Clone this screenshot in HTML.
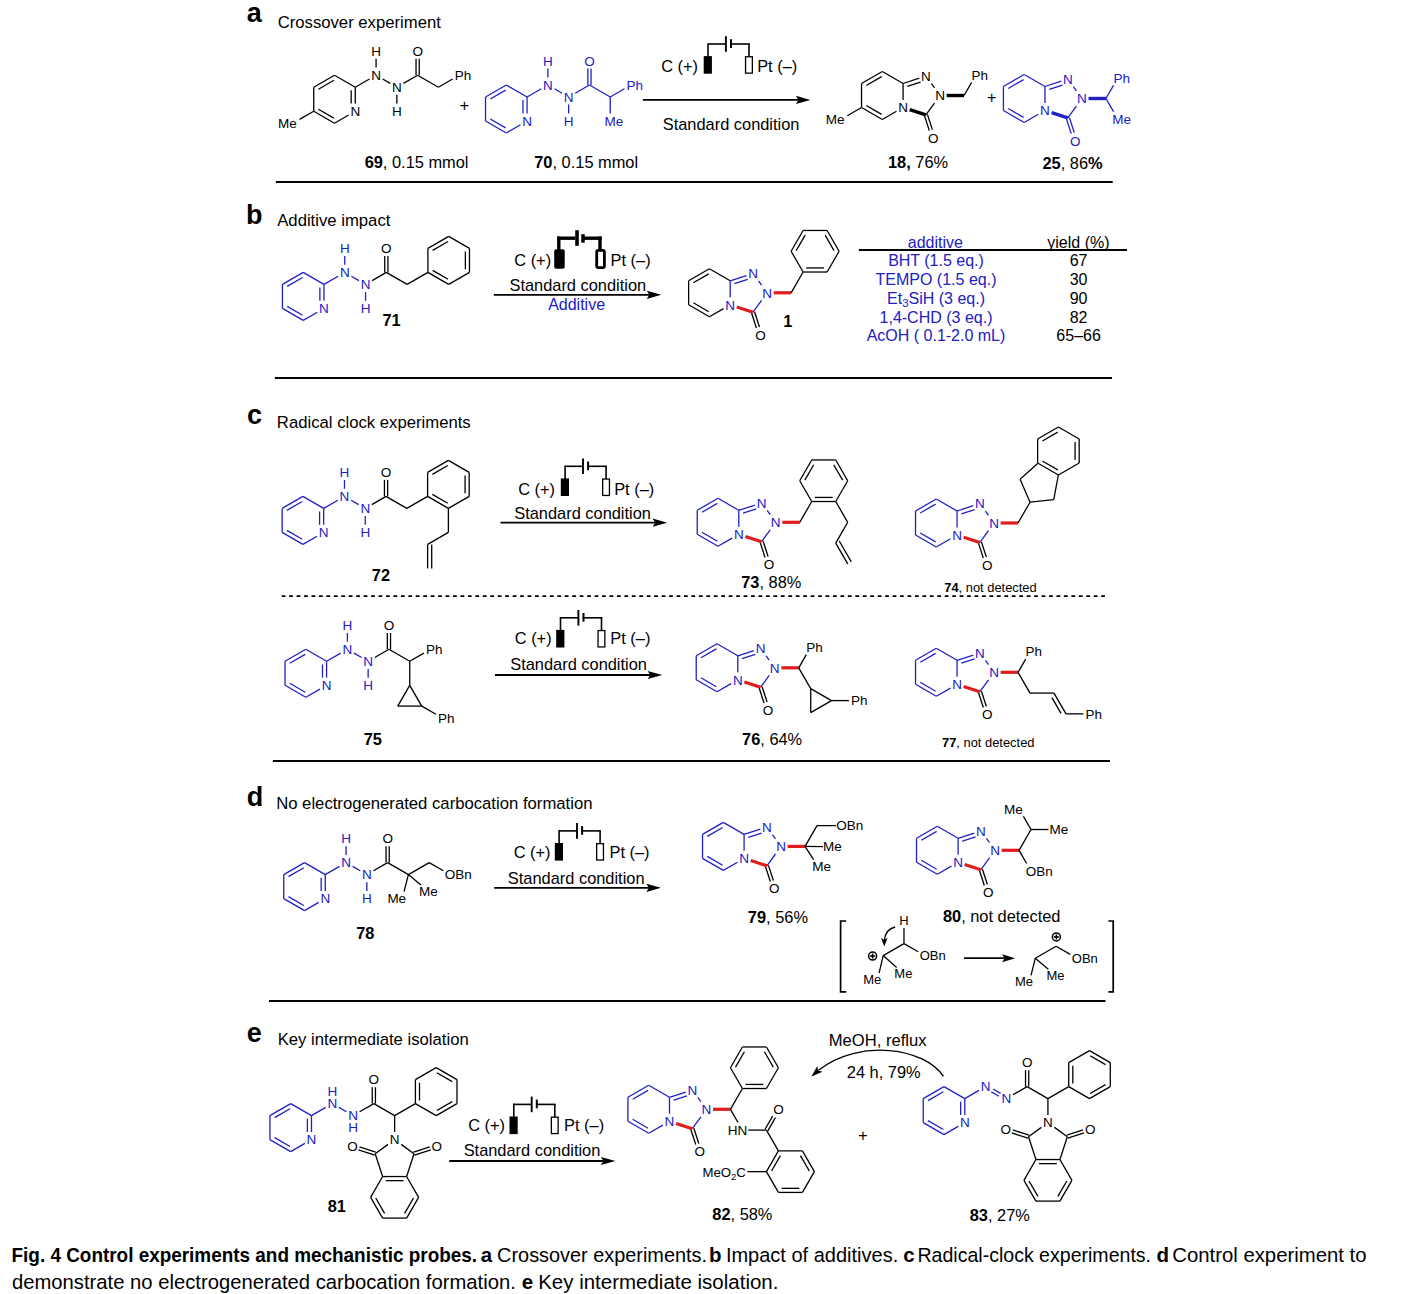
<!DOCTYPE html>
<html><head><meta charset="utf-8"><title>Fig. 4</title>
<style>
html,body{margin:0;padding:0;background:#fff;}
body{width:1410px;height:1294px;overflow:hidden;}
svg{display:block;font-family:"Liberation Sans",sans-serif;}
</style></head><body>
<svg width="1410" height="1294" viewBox="0 0 1410 1294">
<rect width="1410" height="1294" fill="#fff"/>
<text x="246.69" y="21.9" font-size="27" fill="#000" text-anchor="start" font-weight="bold">a</text>
<text x="277.67" y="28.3" font-size="16.7" fill="#000" text-anchor="start">Crossover experiment</text>
<line x1="313.72" y1="87.2" x2="334.5" y2="75.2" stroke="#000" stroke-width="1.3" stroke-linecap="butt"/>
<line x1="318.47" y1="89.19" x2="333.85" y2="80.31" stroke="#000" stroke-width="1.3" stroke-linecap="butt"/>
<line x1="334.5" y1="75.2" x2="355.28" y2="87.2" stroke="#000" stroke-width="1.3" stroke-linecap="butt"/>
<line x1="355.28" y1="87.2" x2="355.28" y2="103.6" stroke="#000" stroke-width="1.3" stroke-linecap="butt"/>
<line x1="351.18" y1="90.32" x2="351.18" y2="103.6" stroke="#000" stroke-width="1.3" stroke-linecap="butt"/>
<line x1="348.68" y1="115.01" x2="334.5" y2="123.2" stroke="#000" stroke-width="1.3" stroke-linecap="butt"/>
<line x1="334.5" y1="123.2" x2="313.72" y2="111.2" stroke="#000" stroke-width="1.3" stroke-linecap="butt"/>
<line x1="333.85" y1="118.09" x2="318.47" y2="109.21" stroke="#000" stroke-width="1.3" stroke-linecap="butt"/>
<line x1="313.72" y1="111.2" x2="313.72" y2="87.2" stroke="#000" stroke-width="1.3" stroke-linecap="butt"/>
<line x1="355.28" y1="87.2" x2="369.47" y2="79.01" stroke="#000" stroke-width="1.3" stroke-linecap="butt"/>
<line x1="382.67" y1="79.01" x2="390.25" y2="83.39" stroke="#000" stroke-width="1.3" stroke-linecap="butt"/>
<line x1="403.45" y1="83.39" x2="417.64" y2="75.2" stroke="#000" stroke-width="1.3" stroke-linecap="butt"/>
<line x1="376.07" y1="67.6" x2="376.07" y2="58.8" stroke="#000" stroke-width="1.3" stroke-linecap="butt"/>
<line x1="396.85" y1="94.8" x2="396.85" y2="103.6" stroke="#000" stroke-width="1.3" stroke-linecap="butt"/>
<line x1="419.24" y1="75.2" x2="419.24" y2="58.8" stroke="#000" stroke-width="1.3" stroke-linecap="butt"/>
<line x1="416.04" y1="75.2" x2="416.04" y2="58.8" stroke="#000" stroke-width="1.3" stroke-linecap="butt"/>
<line x1="417.64" y1="75.2" x2="438.42" y2="87.2" stroke="#000" stroke-width="1.3" stroke-linecap="butt"/>
<line x1="438.42" y1="87.2" x2="452.61" y2="79.01" stroke="#000" stroke-width="1.3" stroke-linecap="butt"/>
<line x1="313.72" y1="111.2" x2="299.53" y2="119.39" stroke="#000" stroke-width="1.3" stroke-linecap="butt"/>
<text x="350.41" y="116.03" font-size="13.5" fill="#000" text-anchor="start">N</text>
<text x="371.19" y="80.03" font-size="13.5" fill="#000" text-anchor="start">N</text>
<text x="391.98" y="92.03" font-size="13.5" fill="#000" text-anchor="start">N</text>
<text x="371.19" y="56.03" font-size="13.5" fill="#000" text-anchor="start">H</text>
<text x="391.98" y="116.03" font-size="13.5" fill="#000" text-anchor="start">H</text>
<text x="412.39" y="56.03" font-size="13.5" fill="#000" text-anchor="start">O</text>
<text x="454.71" y="80.03" font-size="13.5" fill="#000" text-anchor="start">Ph</text>
<text x="296.68" y="128.03" font-size="13.5" fill="#000" text-anchor="end">Me</text>
<text x="464.4" y="111.4" font-size="16" fill="#000" text-anchor="middle">+</text>
<line x1="485.52" y1="97" x2="506.3" y2="85" stroke="#2020c4" stroke-width="1.3" stroke-linecap="butt"/>
<line x1="490.27" y1="98.99" x2="505.65" y2="90.11" stroke="#2020c4" stroke-width="1.3" stroke-linecap="butt"/>
<line x1="506.3" y1="85" x2="527.08" y2="97" stroke="#2020c4" stroke-width="1.3" stroke-linecap="butt"/>
<line x1="527.08" y1="97" x2="527.08" y2="113.4" stroke="#2020c4" stroke-width="1.3" stroke-linecap="butt"/>
<line x1="522.98" y1="100.12" x2="522.98" y2="113.4" stroke="#2020c4" stroke-width="1.3" stroke-linecap="butt"/>
<line x1="520.48" y1="124.81" x2="506.3" y2="133" stroke="#2020c4" stroke-width="1.3" stroke-linecap="butt"/>
<line x1="506.3" y1="133" x2="485.52" y2="121" stroke="#2020c4" stroke-width="1.3" stroke-linecap="butt"/>
<line x1="505.65" y1="127.89" x2="490.27" y2="119.01" stroke="#2020c4" stroke-width="1.3" stroke-linecap="butt"/>
<line x1="485.52" y1="121" x2="485.52" y2="97" stroke="#2020c4" stroke-width="1.3" stroke-linecap="butt"/>
<line x1="527.08" y1="97" x2="541.27" y2="88.81" stroke="#2020c4" stroke-width="1.3" stroke-linecap="butt"/>
<line x1="554.47" y1="88.81" x2="562.05" y2="93.19" stroke="#2020c4" stroke-width="1.3" stroke-linecap="butt"/>
<line x1="575.25" y1="93.19" x2="589.44" y2="85" stroke="#2020c4" stroke-width="1.3" stroke-linecap="butt"/>
<line x1="547.87" y1="77.4" x2="547.87" y2="68.6" stroke="#2020c4" stroke-width="1.3" stroke-linecap="butt"/>
<line x1="568.65" y1="104.6" x2="568.65" y2="113.4" stroke="#2020c4" stroke-width="1.3" stroke-linecap="butt"/>
<line x1="591.04" y1="85" x2="591.04" y2="68.6" stroke="#2020c4" stroke-width="1.3" stroke-linecap="butt"/>
<line x1="587.84" y1="85" x2="587.84" y2="68.6" stroke="#2020c4" stroke-width="1.3" stroke-linecap="butt"/>
<line x1="589.44" y1="85" x2="610.22" y2="97" stroke="#2020c4" stroke-width="1.3" stroke-linecap="butt"/>
<line x1="610.22" y1="97" x2="624.41" y2="88.81" stroke="#2020c4" stroke-width="1.3" stroke-linecap="butt"/>
<line x1="610.22" y1="97" x2="610.22" y2="113.4" stroke="#2020c4" stroke-width="1.3" stroke-linecap="butt"/>
<text x="522.21" y="125.83" font-size="13.5" fill="#2020c4" text-anchor="start">N</text>
<text x="542.99" y="89.83" font-size="13.5" fill="#2020c4" text-anchor="start">N</text>
<text x="563.78" y="101.83" font-size="13.5" fill="#2020c4" text-anchor="start">N</text>
<text x="542.99" y="65.83" font-size="13.5" fill="#2020c4" text-anchor="start">H</text>
<text x="563.78" y="125.83" font-size="13.5" fill="#2020c4" text-anchor="start">H</text>
<text x="584.19" y="65.83" font-size="13.5" fill="#2020c4" text-anchor="start">O</text>
<text x="626.51" y="89.83" font-size="13.5" fill="#2020c4" text-anchor="start">Ph</text>
<text x="604.6" y="125.83" font-size="13.5" fill="#2020c4" text-anchor="start">Me</text>
<text x="364.63" y="167.9" font-size="16.4" fill="#000" text-anchor="start"><tspan font-weight="bold">69</tspan>, 0.15 mmol</text>
<text x="534.26" y="167.9" font-size="16.4" fill="#000" text-anchor="start"><tspan font-weight="bold">70</tspan>, 0.15 mmol</text>
<text x="661.18" y="71.8" font-size="16.4" fill="#000" text-anchor="start">C (+)</text>
<rect x="703.7" y="56.1" width="8.2" height="17.6" fill="#000"/>
<line x1="708" y1="56.6" x2="708" y2="44" stroke="#000" stroke-width="1.6" stroke-linecap="square"/>
<line x1="708" y1="44" x2="725.9" y2="44" stroke="#000" stroke-width="1.6" stroke-linecap="butt"/>
<line x1="725.9" y1="36.2" x2="725.9" y2="51.8" stroke="#000" stroke-width="1.9" stroke-linecap="butt"/>
<line x1="731" y1="39.2" x2="731" y2="47.9" stroke="#000" stroke-width="2" stroke-linecap="butt"/>
<line x1="731" y1="44" x2="749" y2="44" stroke="#000" stroke-width="1.6" stroke-linecap="square"/>
<line x1="749" y1="44" x2="749" y2="56.6" stroke="#000" stroke-width="1.6" stroke-linecap="butt"/>
<rect x="745.55" y="56.75" width="6.8" height="16.4" fill="none" stroke="#000" stroke-width="1.3"/>
<text x="757.19" y="71.8" font-size="16.4" fill="#000" text-anchor="start">Pt (–)</text>
<line x1="642.8" y1="99.9" x2="798.4" y2="99.9" stroke="#000" stroke-width="1.8" stroke-linecap="butt"/>
<polygon points="810.4,99.9 795.9,95.8 798.4,99.9 795.9,104" fill="#000"/>
<text x="662.76" y="130" font-size="16.4" fill="#000" text-anchor="start">Standard condition</text>
<line x1="861.52" y1="83.5" x2="882.3" y2="71.5" stroke="#000" stroke-width="1.3" stroke-linecap="butt"/>
<line x1="866.27" y1="85.49" x2="881.65" y2="76.61" stroke="#000" stroke-width="1.3" stroke-linecap="butt"/>
<line x1="882.3" y1="71.5" x2="903.08" y2="83.5" stroke="#000" stroke-width="1.3" stroke-linecap="butt"/>
<line x1="903.08" y1="83.5" x2="903.08" y2="99.9" stroke="#000" stroke-width="1.3" stroke-linecap="butt"/>
<line x1="896.48" y1="111.31" x2="882.3" y2="119.5" stroke="#000" stroke-width="1.3" stroke-linecap="butt"/>
<line x1="882.3" y1="119.5" x2="861.52" y2="107.5" stroke="#000" stroke-width="1.3" stroke-linecap="butt"/>
<line x1="881.65" y1="114.39" x2="866.27" y2="105.51" stroke="#000" stroke-width="1.3" stroke-linecap="butt"/>
<line x1="861.52" y1="107.5" x2="861.52" y2="83.5" stroke="#000" stroke-width="1.3" stroke-linecap="butt"/>
<line x1="903.08" y1="83.5" x2="919.31" y2="78.23" stroke="#000" stroke-width="1.3" stroke-linecap="butt"/>
<line x1="907.32" y1="86.43" x2="920.58" y2="82.12" stroke="#000" stroke-width="1.3" stroke-linecap="butt"/>
<line x1="931.44" y1="83.68" x2="934.5" y2="87.9" stroke="#000" stroke-width="1.3" stroke-linecap="butt"/>
<line x1="934.5" y1="103.1" x2="925.91" y2="114.92" stroke="#000" stroke-width="1.3" stroke-linecap="butt"/>
<line x1="924.39" y1="115.41" x2="929.34" y2="130.64" stroke="#000" stroke-width="1.3" stroke-linecap="butt"/>
<line x1="927.44" y1="114.43" x2="932.38" y2="129.65" stroke="#000" stroke-width="1.3" stroke-linecap="butt"/>
<line x1="946.62" y1="95.5" x2="964.02" y2="95.5" stroke="#000" stroke-width="3.4" stroke-linecap="butt"/>
<line x1="909.68" y1="109.65" x2="925.91" y2="114.92" stroke="#000" stroke-width="3.4" stroke-linecap="butt"/>
<line x1="964.02" y1="95.5" x2="971.64" y2="82.32" stroke="#000" stroke-width="1.3" stroke-linecap="butt"/>
<line x1="861.52" y1="107.5" x2="847.33" y2="115.69" stroke="#000" stroke-width="1.3" stroke-linecap="butt"/>
<text x="898.21" y="112.33" font-size="13.5" fill="#000" text-anchor="start">N</text>
<text x="921.04" y="80.91" font-size="13.5" fill="#000" text-anchor="start">N</text>
<text x="935.15" y="100.33" font-size="13.5" fill="#000" text-anchor="start">N</text>
<text x="928.08" y="142.58" font-size="13.5" fill="#000" text-anchor="start">O</text>
<text x="971.52" y="79.55" font-size="13.5" fill="#000" text-anchor="start">Ph</text>
<text x="844.48" y="124.33" font-size="13.5" fill="#000" text-anchor="end">Me</text>
<text x="991.7" y="103.4" font-size="16" fill="#000" text-anchor="middle">+</text>
<line x1="1003.42" y1="86.5" x2="1024.2" y2="74.5" stroke="#2020c4" stroke-width="1.3" stroke-linecap="butt"/>
<line x1="1008.17" y1="88.49" x2="1023.55" y2="79.61" stroke="#2020c4" stroke-width="1.3" stroke-linecap="butt"/>
<line x1="1024.2" y1="74.5" x2="1044.98" y2="86.5" stroke="#2020c4" stroke-width="1.3" stroke-linecap="butt"/>
<line x1="1044.98" y1="86.5" x2="1044.98" y2="102.9" stroke="#2020c4" stroke-width="1.3" stroke-linecap="butt"/>
<line x1="1038.38" y1="114.31" x2="1024.2" y2="122.5" stroke="#2020c4" stroke-width="1.3" stroke-linecap="butt"/>
<line x1="1024.2" y1="122.5" x2="1003.42" y2="110.5" stroke="#2020c4" stroke-width="1.3" stroke-linecap="butt"/>
<line x1="1023.55" y1="117.39" x2="1008.17" y2="108.51" stroke="#2020c4" stroke-width="1.3" stroke-linecap="butt"/>
<line x1="1003.42" y1="110.5" x2="1003.42" y2="86.5" stroke="#2020c4" stroke-width="1.3" stroke-linecap="butt"/>
<line x1="1044.98" y1="86.5" x2="1061.21" y2="81.23" stroke="#2020c4" stroke-width="1.3" stroke-linecap="butt"/>
<line x1="1049.22" y1="89.43" x2="1062.48" y2="85.12" stroke="#2020c4" stroke-width="1.3" stroke-linecap="butt"/>
<line x1="1073.34" y1="86.68" x2="1076.4" y2="90.9" stroke="#2020c4" stroke-width="1.3" stroke-linecap="butt"/>
<line x1="1076.4" y1="106.1" x2="1067.81" y2="117.92" stroke="#2020c4" stroke-width="1.3" stroke-linecap="butt"/>
<line x1="1066.29" y1="118.41" x2="1071.24" y2="133.64" stroke="#2020c4" stroke-width="1.3" stroke-linecap="butt"/>
<line x1="1069.34" y1="117.43" x2="1074.28" y2="132.65" stroke="#2020c4" stroke-width="1.3" stroke-linecap="butt"/>
<line x1="1088.52" y1="98.5" x2="1105.92" y2="98.5" stroke="#2020c4" stroke-width="3.4" stroke-linecap="butt"/>
<line x1="1051.58" y1="112.65" x2="1067.81" y2="117.92" stroke="#2020c4" stroke-width="3.4" stroke-linecap="butt"/>
<line x1="1105.92" y1="98.5" x2="1113.54" y2="85.32" stroke="#2020c4" stroke-width="1.3" stroke-linecap="butt"/>
<line x1="1105.92" y1="98.5" x2="1113.54" y2="111.68" stroke="#2020c4" stroke-width="1.3" stroke-linecap="butt"/>
<text x="1040.11" y="115.33" font-size="13.5" fill="#2020c4" text-anchor="start">N</text>
<text x="1062.94" y="83.91" font-size="13.5" fill="#2020c4" text-anchor="start">N</text>
<text x="1077.05" y="103.33" font-size="13.5" fill="#2020c4" text-anchor="start">N</text>
<text x="1069.98" y="145.58" font-size="13.5" fill="#2020c4" text-anchor="start">O</text>
<text x="1113.42" y="82.55" font-size="13.5" fill="#2020c4" text-anchor="start">Ph</text>
<text x="1112.3" y="124.12" font-size="13.5" fill="#2020c4" text-anchor="start">Me</text>
<text x="887.93" y="168.1" font-size="16.4" fill="#000" text-anchor="start"><tspan font-weight="bold">18,</tspan> 76%</text>
<text x="1042.43" y="168.6" font-size="16.4" fill="#000" text-anchor="start"><tspan font-weight="bold">25</tspan>, 86<tspan font-weight="bold">%</tspan></text>
<line x1="275.9" y1="181.9" x2="1112.7" y2="181.9" stroke="#000" stroke-width="2" stroke-linecap="butt"/>
<text x="246.05" y="224" font-size="27" fill="#000" text-anchor="start" font-weight="bold">b</text>
<text x="277.22" y="226.4" font-size="16.7" fill="#000" text-anchor="start">Additive impact</text>
<line x1="282.42" y1="284.4" x2="303.2" y2="272.4" stroke="#2020c4" stroke-width="1.3" stroke-linecap="butt"/>
<line x1="287.17" y1="286.39" x2="302.55" y2="277.51" stroke="#2020c4" stroke-width="1.3" stroke-linecap="butt"/>
<line x1="303.2" y1="272.4" x2="323.98" y2="284.4" stroke="#2020c4" stroke-width="1.3" stroke-linecap="butt"/>
<line x1="323.98" y1="284.4" x2="323.98" y2="300.8" stroke="#2020c4" stroke-width="1.3" stroke-linecap="butt"/>
<line x1="319.88" y1="287.52" x2="319.88" y2="300.8" stroke="#2020c4" stroke-width="1.3" stroke-linecap="butt"/>
<line x1="317.38" y1="312.21" x2="303.2" y2="320.4" stroke="#2020c4" stroke-width="1.3" stroke-linecap="butt"/>
<line x1="303.2" y1="320.4" x2="282.42" y2="308.4" stroke="#2020c4" stroke-width="1.3" stroke-linecap="butt"/>
<line x1="302.55" y1="315.29" x2="287.17" y2="306.41" stroke="#2020c4" stroke-width="1.3" stroke-linecap="butt"/>
<line x1="282.42" y1="308.4" x2="282.42" y2="284.4" stroke="#2020c4" stroke-width="1.3" stroke-linecap="butt"/>
<line x1="323.98" y1="284.4" x2="338.17" y2="276.21" stroke="#2020c4" stroke-width="1.3" stroke-linecap="butt"/>
<line x1="351.37" y1="276.21" x2="358.95" y2="280.59" stroke="#2020c4" stroke-width="1.3" stroke-linecap="butt"/>
<line x1="372.15" y1="280.59" x2="386.34" y2="272.4" stroke="#000" stroke-width="1.3" stroke-linecap="butt"/>
<line x1="344.77" y1="264.8" x2="344.77" y2="256" stroke="#2020c4" stroke-width="1.3" stroke-linecap="butt"/>
<line x1="365.55" y1="292" x2="365.55" y2="300.8" stroke="#2020c4" stroke-width="1.3" stroke-linecap="butt"/>
<line x1="387.94" y1="272.4" x2="387.94" y2="256" stroke="#000" stroke-width="1.3" stroke-linecap="butt"/>
<line x1="384.74" y1="272.4" x2="384.74" y2="256" stroke="#000" stroke-width="1.3" stroke-linecap="butt"/>
<line x1="386.34" y1="272.4" x2="407.12" y2="284.4" stroke="#000" stroke-width="1.3" stroke-linecap="butt"/>
<line x1="407.12" y1="284.4" x2="427.91" y2="272.4" stroke="#000" stroke-width="1.3" stroke-linecap="butt"/>
<line x1="448.69" y1="236.4" x2="469.48" y2="248.4" stroke="#000" stroke-width="1.3" stroke-linecap="butt"/>
<line x1="469.48" y1="248.4" x2="469.48" y2="272.4" stroke="#000" stroke-width="1.3" stroke-linecap="butt"/>
<line x1="465.38" y1="251.52" x2="465.38" y2="269.28" stroke="#000" stroke-width="1.3" stroke-linecap="butt"/>
<line x1="469.48" y1="272.4" x2="448.69" y2="284.4" stroke="#000" stroke-width="1.3" stroke-linecap="butt"/>
<line x1="448.69" y1="284.4" x2="427.91" y2="272.4" stroke="#000" stroke-width="1.3" stroke-linecap="butt"/>
<line x1="448.04" y1="279.29" x2="432.66" y2="270.41" stroke="#000" stroke-width="1.3" stroke-linecap="butt"/>
<line x1="427.91" y1="272.4" x2="427.91" y2="248.4" stroke="#000" stroke-width="1.3" stroke-linecap="butt"/>
<line x1="427.91" y1="248.4" x2="448.69" y2="236.4" stroke="#000" stroke-width="1.3" stroke-linecap="butt"/>
<line x1="432.66" y1="250.39" x2="448.04" y2="241.51" stroke="#000" stroke-width="1.3" stroke-linecap="butt"/>
<text x="319.11" y="313.23" font-size="13.5" fill="#2020c4" text-anchor="start">N</text>
<text x="339.89" y="277.23" font-size="13.5" fill="#2020c4" text-anchor="start">N</text>
<text x="360.68" y="289.23" font-size="13.5" fill="#2020c4" text-anchor="start">N</text>
<text x="339.89" y="253.23" font-size="13.5" fill="#2020c4" text-anchor="start">H</text>
<text x="360.68" y="313.23" font-size="13.5" fill="#2020c4" text-anchor="start">H</text>
<text x="381.09" y="253.23" font-size="13.5" fill="#000" text-anchor="start">O</text>
<text x="382.46" y="326.4" font-size="16.4" fill="#000" text-anchor="start" font-weight="bold">71</text>
<text x="514.28" y="266.4" font-size="16.4" fill="#000" text-anchor="start">C (+)</text>
<rect x="554.2" y="249.2" width="10.5" height="19.6" rx="2" fill="#000"/>
<line x1="558.8" y1="250.2" x2="558.8" y2="236.5" stroke="#000" stroke-width="3.4" stroke-linecap="butt"/>
<line x1="557.1" y1="238.2" x2="575.2" y2="238.2" stroke="#000" stroke-width="3.4" stroke-linecap="butt"/>
<line x1="577" y1="230.2" x2="577" y2="245.8" stroke="#000" stroke-width="3.6" stroke-linecap="butt"/>
<line x1="583" y1="234.2" x2="583" y2="242.7" stroke="#000" stroke-width="3.5" stroke-linecap="butt"/>
<line x1="583.2" y1="238.2" x2="601.7" y2="238.2" stroke="#000" stroke-width="3.4" stroke-linecap="butt"/>
<line x1="600" y1="236.5" x2="600" y2="250.2" stroke="#000" stroke-width="3.4" stroke-linecap="butt"/>
<rect x="596.7" y="250.4" width="7.7" height="17.2" rx="1.6" fill="none" stroke="#000" stroke-width="2.8"/>
<text x="610.59" y="266.4" font-size="16.4" fill="#000" text-anchor="start">Pt (–)</text>
<line x1="493.8" y1="294.8" x2="649.3" y2="294.8" stroke="#000" stroke-width="1.8" stroke-linecap="butt"/>
<polygon points="661.3,294.8 646.8,290.7 649.3,294.8 646.8,298.9" fill="#000"/>
<text x="509.46" y="290.9" font-size="16.4" fill="#000" text-anchor="start">Standard condition</text>
<text x="576.6" y="309.6" font-size="16" fill="#2020c4" text-anchor="middle">Additive</text>
<line x1="688.62" y1="280.8" x2="709.4" y2="268.8" stroke="#000" stroke-width="1.3" stroke-linecap="butt"/>
<line x1="693.37" y1="282.79" x2="708.75" y2="273.91" stroke="#000" stroke-width="1.3" stroke-linecap="butt"/>
<line x1="709.4" y1="268.8" x2="730.18" y2="280.8" stroke="#000" stroke-width="1.3" stroke-linecap="butt"/>
<line x1="730.18" y1="280.8" x2="730.18" y2="297.2" stroke="#2020c4" stroke-width="1.3" stroke-linecap="butt"/>
<line x1="723.58" y1="308.61" x2="709.4" y2="316.8" stroke="#000" stroke-width="1.3" stroke-linecap="butt"/>
<line x1="709.4" y1="316.8" x2="688.62" y2="304.8" stroke="#000" stroke-width="1.3" stroke-linecap="butt"/>
<line x1="708.75" y1="311.69" x2="693.37" y2="302.81" stroke="#000" stroke-width="1.3" stroke-linecap="butt"/>
<line x1="688.62" y1="304.8" x2="688.62" y2="280.8" stroke="#000" stroke-width="1.3" stroke-linecap="butt"/>
<line x1="730.18" y1="280.8" x2="746.41" y2="275.53" stroke="#2020c4" stroke-width="1.3" stroke-linecap="butt"/>
<line x1="734.42" y1="283.73" x2="747.68" y2="279.42" stroke="#2020c4" stroke-width="1.3" stroke-linecap="butt"/>
<line x1="758.54" y1="280.98" x2="761.6" y2="285.2" stroke="#2020c4" stroke-width="1.3" stroke-linecap="butt"/>
<line x1="761.6" y1="300.4" x2="753.01" y2="312.22" stroke="#2020c4" stroke-width="1.3" stroke-linecap="butt"/>
<line x1="751.49" y1="312.71" x2="756.44" y2="327.94" stroke="#000" stroke-width="1.3" stroke-linecap="butt"/>
<line x1="754.54" y1="311.73" x2="759.48" y2="326.95" stroke="#000" stroke-width="1.3" stroke-linecap="butt"/>
<line x1="773.72" y1="292.8" x2="791.12" y2="292.8" stroke="#e01c1c" stroke-width="3.2" stroke-linecap="butt"/>
<line x1="736.78" y1="306.95" x2="753.01" y2="312.22" stroke="#e01c1c" stroke-width="3.2" stroke-linecap="butt"/>
<line x1="791.12" y1="292.8" x2="803.12" y2="272.02" stroke="#000" stroke-width="1.3" stroke-linecap="butt"/>
<line x1="791.12" y1="251.24" x2="803.12" y2="230.45" stroke="#000" stroke-width="1.3" stroke-linecap="butt"/>
<line x1="796.24" y1="250.58" x2="805.12" y2="235.2" stroke="#000" stroke-width="1.3" stroke-linecap="butt"/>
<line x1="803.12" y1="230.45" x2="827.12" y2="230.45" stroke="#000" stroke-width="1.3" stroke-linecap="butt"/>
<line x1="827.12" y1="230.45" x2="839.12" y2="251.24" stroke="#000" stroke-width="1.3" stroke-linecap="butt"/>
<line x1="825.13" y1="235.2" x2="834.01" y2="250.58" stroke="#000" stroke-width="1.3" stroke-linecap="butt"/>
<line x1="839.12" y1="251.24" x2="827.12" y2="272.02" stroke="#000" stroke-width="1.3" stroke-linecap="butt"/>
<line x1="827.12" y1="272.02" x2="803.12" y2="272.02" stroke="#000" stroke-width="1.3" stroke-linecap="butt"/>
<line x1="824.01" y1="267.92" x2="806.25" y2="267.92" stroke="#000" stroke-width="1.3" stroke-linecap="butt"/>
<line x1="803.12" y1="272.02" x2="791.12" y2="251.24" stroke="#000" stroke-width="1.3" stroke-linecap="butt"/>
<text x="725.31" y="309.63" font-size="13.5" fill="#2020c4" text-anchor="start">N</text>
<text x="748.14" y="278.21" font-size="13.5" fill="#2020c4" text-anchor="start">N</text>
<text x="762.25" y="297.63" font-size="13.5" fill="#2020c4" text-anchor="start">N</text>
<text x="755.18" y="339.88" font-size="13.5" fill="#000" text-anchor="start">O</text>
<text x="783.33" y="327.4" font-size="16.4" fill="#000" text-anchor="start" font-weight="bold">1</text>
<text x="935.4" y="247.5" font-size="16" fill="#2020c4" text-anchor="middle">additive</text>
<text x="1078.4" y="247.5" font-size="16" fill="#000" text-anchor="middle">yield (%)</text>
<line x1="858.9" y1="250" x2="1127" y2="250" stroke="#000" stroke-width="1.9" stroke-linecap="butt"/>
<text x="936" y="266.4" font-size="16" fill="#2020c4" text-anchor="middle">BHT (1.5 eq.)</text>
<text x="1078.6" y="266.4" font-size="16" fill="#000" text-anchor="middle">67</text>
<text x="936" y="285.2" font-size="16" fill="#2020c4" text-anchor="middle">TEMPO (1.5 eq.)</text>
<text x="1078.6" y="285.2" font-size="16" fill="#000" text-anchor="middle">30</text>
<text x="936" y="304" font-size="16" fill="#2020c4" text-anchor="middle">Et<tspan font-size="11.5" dy="3">3</tspan><tspan dy="-3">SiH (3 eq.)</tspan></text>
<text x="1078.6" y="304" font-size="16" fill="#000" text-anchor="middle">90</text>
<text x="936" y="322.8" font-size="16" fill="#2020c4" text-anchor="middle">1,4-CHD (3 eq.)</text>
<text x="1078.6" y="322.8" font-size="16" fill="#000" text-anchor="middle">82</text>
<text x="936" y="341.3" font-size="16" fill="#2020c4" text-anchor="middle">AcOH ( 0.1-2.0 mL)</text>
<text x="1078.6" y="341.3" font-size="16" fill="#000" text-anchor="middle">65–66</text>
<line x1="274.9" y1="378" x2="1112" y2="378" stroke="#000" stroke-width="2" stroke-linecap="butt"/>
<text x="246.92" y="424.3" font-size="27" fill="#000" text-anchor="start" font-weight="bold">c</text>
<text x="276.86" y="428.1" font-size="16.7" fill="#000" text-anchor="start">Radical clock experiments</text>
<line x1="282.12" y1="508.4" x2="302.9" y2="496.4" stroke="#2020c4" stroke-width="1.3" stroke-linecap="butt"/>
<line x1="286.87" y1="510.39" x2="302.25" y2="501.51" stroke="#2020c4" stroke-width="1.3" stroke-linecap="butt"/>
<line x1="302.9" y1="496.4" x2="323.68" y2="508.4" stroke="#2020c4" stroke-width="1.3" stroke-linecap="butt"/>
<line x1="323.68" y1="508.4" x2="323.68" y2="524.8" stroke="#2020c4" stroke-width="1.3" stroke-linecap="butt"/>
<line x1="319.58" y1="511.52" x2="319.58" y2="524.8" stroke="#2020c4" stroke-width="1.3" stroke-linecap="butt"/>
<line x1="317.08" y1="536.21" x2="302.9" y2="544.4" stroke="#2020c4" stroke-width="1.3" stroke-linecap="butt"/>
<line x1="302.9" y1="544.4" x2="282.12" y2="532.4" stroke="#2020c4" stroke-width="1.3" stroke-linecap="butt"/>
<line x1="302.25" y1="539.29" x2="286.87" y2="530.41" stroke="#2020c4" stroke-width="1.3" stroke-linecap="butt"/>
<line x1="282.12" y1="532.4" x2="282.12" y2="508.4" stroke="#2020c4" stroke-width="1.3" stroke-linecap="butt"/>
<line x1="323.68" y1="508.4" x2="337.87" y2="500.21" stroke="#2020c4" stroke-width="1.3" stroke-linecap="butt"/>
<line x1="351.07" y1="500.21" x2="358.65" y2="504.59" stroke="#2020c4" stroke-width="1.3" stroke-linecap="butt"/>
<line x1="371.85" y1="504.59" x2="386.04" y2="496.4" stroke="#000" stroke-width="1.3" stroke-linecap="butt"/>
<line x1="344.47" y1="488.8" x2="344.47" y2="480" stroke="#2020c4" stroke-width="1.3" stroke-linecap="butt"/>
<line x1="365.25" y1="516" x2="365.25" y2="524.8" stroke="#2020c4" stroke-width="1.3" stroke-linecap="butt"/>
<line x1="387.64" y1="496.4" x2="387.64" y2="480" stroke="#000" stroke-width="1.3" stroke-linecap="butt"/>
<line x1="384.44" y1="496.4" x2="384.44" y2="480" stroke="#000" stroke-width="1.3" stroke-linecap="butt"/>
<line x1="386.04" y1="496.4" x2="406.82" y2="508.4" stroke="#000" stroke-width="1.3" stroke-linecap="butt"/>
<line x1="406.82" y1="508.4" x2="427.61" y2="496.4" stroke="#000" stroke-width="1.3" stroke-linecap="butt"/>
<line x1="448.39" y1="460.4" x2="469.18" y2="472.4" stroke="#000" stroke-width="1.3" stroke-linecap="butt"/>
<line x1="469.18" y1="472.4" x2="469.18" y2="496.4" stroke="#000" stroke-width="1.3" stroke-linecap="butt"/>
<line x1="465.08" y1="475.52" x2="465.08" y2="493.28" stroke="#000" stroke-width="1.3" stroke-linecap="butt"/>
<line x1="469.18" y1="496.4" x2="448.39" y2="508.4" stroke="#000" stroke-width="1.3" stroke-linecap="butt"/>
<line x1="448.39" y1="508.4" x2="427.61" y2="496.4" stroke="#000" stroke-width="1.3" stroke-linecap="butt"/>
<line x1="447.74" y1="503.29" x2="432.36" y2="494.41" stroke="#000" stroke-width="1.3" stroke-linecap="butt"/>
<line x1="427.61" y1="496.4" x2="427.61" y2="472.4" stroke="#000" stroke-width="1.3" stroke-linecap="butt"/>
<line x1="427.61" y1="472.4" x2="448.39" y2="460.4" stroke="#000" stroke-width="1.3" stroke-linecap="butt"/>
<line x1="432.36" y1="474.39" x2="447.74" y2="465.51" stroke="#000" stroke-width="1.3" stroke-linecap="butt"/>
<line x1="448.39" y1="508.4" x2="448.39" y2="532.4" stroke="#000" stroke-width="1.3" stroke-linecap="butt"/>
<line x1="448.39" y1="532.4" x2="427.61" y2="544.4" stroke="#000" stroke-width="1.3" stroke-linecap="butt"/>
<line x1="427.61" y1="544.4" x2="427.61" y2="568.4" stroke="#000" stroke-width="1.3" stroke-linecap="butt"/>
<line x1="431.71" y1="544.4" x2="431.71" y2="568.4" stroke="#000" stroke-width="1.3" stroke-linecap="butt"/>
<text x="318.81" y="537.23" font-size="13.5" fill="#2020c4" text-anchor="start">N</text>
<text x="339.59" y="501.23" font-size="13.5" fill="#2020c4" text-anchor="start">N</text>
<text x="360.38" y="513.23" font-size="13.5" fill="#2020c4" text-anchor="start">N</text>
<text x="339.59" y="477.23" font-size="13.5" fill="#2020c4" text-anchor="start">H</text>
<text x="360.38" y="537.23" font-size="13.5" fill="#2020c4" text-anchor="start">H</text>
<text x="380.79" y="477.23" font-size="13.5" fill="#000" text-anchor="start">O</text>
<text x="371.86" y="581" font-size="16.4" fill="#000" text-anchor="start" font-weight="bold">72</text>
<text x="518.18" y="494.9" font-size="16.4" fill="#000" text-anchor="start">C (+)</text>
<rect x="560.8" y="478.4" width="8.2" height="17.6" fill="#000"/>
<line x1="565.1" y1="478.9" x2="565.1" y2="466.3" stroke="#000" stroke-width="1.6" stroke-linecap="square"/>
<line x1="565.1" y1="466.3" x2="583" y2="466.3" stroke="#000" stroke-width="1.6" stroke-linecap="butt"/>
<line x1="583" y1="458.5" x2="583" y2="474.1" stroke="#000" stroke-width="1.9" stroke-linecap="butt"/>
<line x1="588.1" y1="461.5" x2="588.1" y2="470.2" stroke="#000" stroke-width="2" stroke-linecap="butt"/>
<line x1="588.1" y1="466.3" x2="606.1" y2="466.3" stroke="#000" stroke-width="1.6" stroke-linecap="square"/>
<line x1="606.1" y1="466.3" x2="606.1" y2="478.9" stroke="#000" stroke-width="1.6" stroke-linecap="butt"/>
<rect x="602.65" y="479.05" width="6.8" height="16.4" fill="none" stroke="#000" stroke-width="1.3"/>
<text x="614.19" y="494.9" font-size="16.4" fill="#000" text-anchor="start">Pt (–)</text>
<line x1="500.5" y1="522.7" x2="655.2" y2="522.7" stroke="#000" stroke-width="1.8" stroke-linecap="butt"/>
<polygon points="667.2,522.7 652.7,518.6 655.2,522.7 652.7,526.8" fill="#000"/>
<text x="514.26" y="518.8" font-size="16.4" fill="#000" text-anchor="start">Standard condition</text>
<line x1="697.22" y1="510.3" x2="718" y2="498.3" stroke="#2020c4" stroke-width="1.3" stroke-linecap="butt"/>
<line x1="701.97" y1="512.29" x2="717.35" y2="503.41" stroke="#2020c4" stroke-width="1.3" stroke-linecap="butt"/>
<line x1="718" y1="498.3" x2="738.78" y2="510.3" stroke="#2020c4" stroke-width="1.3" stroke-linecap="butt"/>
<line x1="738.78" y1="510.3" x2="738.78" y2="526.7" stroke="#2020c4" stroke-width="1.3" stroke-linecap="butt"/>
<line x1="732.18" y1="538.11" x2="718" y2="546.3" stroke="#2020c4" stroke-width="1.3" stroke-linecap="butt"/>
<line x1="718" y1="546.3" x2="697.22" y2="534.3" stroke="#2020c4" stroke-width="1.3" stroke-linecap="butt"/>
<line x1="717.35" y1="541.19" x2="701.97" y2="532.31" stroke="#2020c4" stroke-width="1.3" stroke-linecap="butt"/>
<line x1="697.22" y1="534.3" x2="697.22" y2="510.3" stroke="#2020c4" stroke-width="1.3" stroke-linecap="butt"/>
<line x1="738.78" y1="510.3" x2="755.01" y2="505.03" stroke="#2020c4" stroke-width="1.3" stroke-linecap="butt"/>
<line x1="743.02" y1="513.23" x2="756.28" y2="508.92" stroke="#2020c4" stroke-width="1.3" stroke-linecap="butt"/>
<line x1="767.14" y1="510.48" x2="770.2" y2="514.7" stroke="#2020c4" stroke-width="1.3" stroke-linecap="butt"/>
<line x1="770.2" y1="529.9" x2="761.61" y2="541.72" stroke="#2020c4" stroke-width="1.3" stroke-linecap="butt"/>
<line x1="760.09" y1="542.21" x2="765.04" y2="557.44" stroke="#000" stroke-width="1.3" stroke-linecap="butt"/>
<line x1="763.14" y1="541.23" x2="768.08" y2="556.45" stroke="#000" stroke-width="1.3" stroke-linecap="butt"/>
<line x1="782.32" y1="522.3" x2="799.72" y2="522.3" stroke="#e01c1c" stroke-width="3.2" stroke-linecap="butt"/>
<line x1="745.38" y1="536.45" x2="761.61" y2="541.72" stroke="#e01c1c" stroke-width="3.2" stroke-linecap="butt"/>
<line x1="799.72" y1="522.3" x2="811.72" y2="501.52" stroke="#000" stroke-width="1.3" stroke-linecap="butt"/>
<line x1="799.72" y1="480.74" x2="811.72" y2="459.95" stroke="#000" stroke-width="1.3" stroke-linecap="butt"/>
<line x1="804.84" y1="480.08" x2="813.72" y2="464.7" stroke="#000" stroke-width="1.3" stroke-linecap="butt"/>
<line x1="811.72" y1="459.95" x2="835.72" y2="459.95" stroke="#000" stroke-width="1.3" stroke-linecap="butt"/>
<line x1="835.72" y1="459.95" x2="847.72" y2="480.74" stroke="#000" stroke-width="1.3" stroke-linecap="butt"/>
<line x1="833.73" y1="464.7" x2="842.61" y2="480.08" stroke="#000" stroke-width="1.3" stroke-linecap="butt"/>
<line x1="847.72" y1="480.74" x2="835.72" y2="501.52" stroke="#000" stroke-width="1.3" stroke-linecap="butt"/>
<line x1="835.72" y1="501.52" x2="811.72" y2="501.52" stroke="#000" stroke-width="1.3" stroke-linecap="butt"/>
<line x1="832.61" y1="497.42" x2="814.85" y2="497.42" stroke="#000" stroke-width="1.3" stroke-linecap="butt"/>
<line x1="811.72" y1="501.52" x2="799.72" y2="480.74" stroke="#000" stroke-width="1.3" stroke-linecap="butt"/>
<line x1="835.72" y1="501.52" x2="847.72" y2="522.3" stroke="#000" stroke-width="1.3" stroke-linecap="butt"/>
<line x1="847.72" y1="522.3" x2="835.72" y2="543.09" stroke="#000" stroke-width="1.3" stroke-linecap="butt"/>
<line x1="835.72" y1="543.09" x2="847.72" y2="563.87" stroke="#000" stroke-width="1.3" stroke-linecap="butt"/>
<line x1="839.28" y1="541.04" x2="851.28" y2="561.82" stroke="#000" stroke-width="1.3" stroke-linecap="butt"/>
<text x="733.91" y="539.13" font-size="13.5" fill="#2020c4" text-anchor="start">N</text>
<text x="756.74" y="507.71" font-size="13.5" fill="#2020c4" text-anchor="start">N</text>
<text x="770.85" y="527.13" font-size="13.5" fill="#2020c4" text-anchor="start">N</text>
<text x="763.78" y="569.38" font-size="13.5" fill="#000" text-anchor="start">O</text>
<text x="741.26" y="588.4" font-size="16.4" fill="#000" text-anchor="start"><tspan font-weight="bold">73</tspan>, 88%</text>
<line x1="915.52" y1="511" x2="936.3" y2="499" stroke="#2020c4" stroke-width="1.3" stroke-linecap="butt"/>
<line x1="920.27" y1="512.99" x2="935.65" y2="504.11" stroke="#2020c4" stroke-width="1.3" stroke-linecap="butt"/>
<line x1="936.3" y1="499" x2="957.08" y2="511" stroke="#2020c4" stroke-width="1.3" stroke-linecap="butt"/>
<line x1="957.08" y1="511" x2="957.08" y2="527.4" stroke="#2020c4" stroke-width="1.3" stroke-linecap="butt"/>
<line x1="950.48" y1="538.81" x2="936.3" y2="547" stroke="#2020c4" stroke-width="1.3" stroke-linecap="butt"/>
<line x1="936.3" y1="547" x2="915.52" y2="535" stroke="#2020c4" stroke-width="1.3" stroke-linecap="butt"/>
<line x1="935.65" y1="541.89" x2="920.27" y2="533.01" stroke="#2020c4" stroke-width="1.3" stroke-linecap="butt"/>
<line x1="915.52" y1="535" x2="915.52" y2="511" stroke="#2020c4" stroke-width="1.3" stroke-linecap="butt"/>
<line x1="957.08" y1="511" x2="973.31" y2="505.73" stroke="#2020c4" stroke-width="1.3" stroke-linecap="butt"/>
<line x1="961.32" y1="513.93" x2="974.58" y2="509.62" stroke="#2020c4" stroke-width="1.3" stroke-linecap="butt"/>
<line x1="985.44" y1="511.18" x2="988.5" y2="515.4" stroke="#2020c4" stroke-width="1.3" stroke-linecap="butt"/>
<line x1="988.5" y1="530.6" x2="979.91" y2="542.42" stroke="#2020c4" stroke-width="1.3" stroke-linecap="butt"/>
<line x1="978.39" y1="542.91" x2="983.34" y2="558.14" stroke="#000" stroke-width="1.3" stroke-linecap="butt"/>
<line x1="981.44" y1="541.93" x2="986.38" y2="557.15" stroke="#000" stroke-width="1.3" stroke-linecap="butt"/>
<line x1="1000.62" y1="523" x2="1018.02" y2="523" stroke="#e01c1c" stroke-width="3.2" stroke-linecap="butt"/>
<line x1="963.68" y1="537.15" x2="979.91" y2="542.42" stroke="#e01c1c" stroke-width="3.2" stroke-linecap="butt"/>
<line x1="1018.02" y1="523" x2="1030.02" y2="502.22" stroke="#000" stroke-width="1.3" stroke-linecap="butt"/>
<line x1="1030.02" y1="502.22" x2="1020.1" y2="479.3" stroke="#000" stroke-width="1.3" stroke-linecap="butt"/>
<line x1="1020.1" y1="479.3" x2="1037.6" y2="463.6" stroke="#000" stroke-width="1.3" stroke-linecap="butt"/>
<line x1="1030.02" y1="502.22" x2="1053.7" y2="499.6" stroke="#000" stroke-width="1.3" stroke-linecap="butt"/>
<line x1="1053.7" y1="499.6" x2="1058.4" y2="475" stroke="#000" stroke-width="1.3" stroke-linecap="butt"/>
<line x1="1058.4" y1="427" x2="1079.18" y2="439" stroke="#000" stroke-width="1.3" stroke-linecap="butt"/>
<line x1="1079.18" y1="439" x2="1079.18" y2="463" stroke="#000" stroke-width="1.3" stroke-linecap="butt"/>
<line x1="1075.08" y1="442.12" x2="1075.08" y2="459.88" stroke="#000" stroke-width="1.3" stroke-linecap="butt"/>
<line x1="1079.18" y1="463" x2="1058.4" y2="475" stroke="#000" stroke-width="1.3" stroke-linecap="butt"/>
<line x1="1058.4" y1="475" x2="1037.62" y2="463" stroke="#000" stroke-width="1.3" stroke-linecap="butt"/>
<line x1="1057.75" y1="469.89" x2="1042.37" y2="461.01" stroke="#000" stroke-width="1.3" stroke-linecap="butt"/>
<line x1="1037.62" y1="463" x2="1037.62" y2="439" stroke="#000" stroke-width="1.3" stroke-linecap="butt"/>
<line x1="1037.62" y1="439" x2="1058.4" y2="427" stroke="#000" stroke-width="1.3" stroke-linecap="butt"/>
<line x1="1042.37" y1="440.99" x2="1057.75" y2="432.11" stroke="#000" stroke-width="1.3" stroke-linecap="butt"/>
<text x="952.21" y="539.83" font-size="13.5" fill="#2020c4" text-anchor="start">N</text>
<text x="975.04" y="508.41" font-size="13.5" fill="#2020c4" text-anchor="start">N</text>
<text x="989.15" y="527.83" font-size="13.5" fill="#2020c4" text-anchor="start">N</text>
<text x="982.08" y="570.08" font-size="13.5" fill="#000" text-anchor="start">O</text>
<text x="944.22" y="591.6" font-size="12.9" fill="#000" text-anchor="start"><tspan font-weight="bold">74</tspan>, not detected</text>
<line x1="281.7" y1="596.2" x2="1105" y2="596.2" stroke="#000" stroke-width="1.7" stroke-dasharray="3.75 3.7"/>
<line x1="285.02" y1="661.3" x2="305.8" y2="649.3" stroke="#2020c4" stroke-width="1.3" stroke-linecap="butt"/>
<line x1="289.77" y1="663.29" x2="305.15" y2="654.41" stroke="#2020c4" stroke-width="1.3" stroke-linecap="butt"/>
<line x1="305.8" y1="649.3" x2="326.58" y2="661.3" stroke="#2020c4" stroke-width="1.3" stroke-linecap="butt"/>
<line x1="326.58" y1="661.3" x2="326.58" y2="677.7" stroke="#2020c4" stroke-width="1.3" stroke-linecap="butt"/>
<line x1="322.48" y1="664.42" x2="322.48" y2="677.7" stroke="#2020c4" stroke-width="1.3" stroke-linecap="butt"/>
<line x1="319.98" y1="689.11" x2="305.8" y2="697.3" stroke="#2020c4" stroke-width="1.3" stroke-linecap="butt"/>
<line x1="305.8" y1="697.3" x2="285.02" y2="685.3" stroke="#2020c4" stroke-width="1.3" stroke-linecap="butt"/>
<line x1="305.15" y1="692.19" x2="289.77" y2="683.31" stroke="#2020c4" stroke-width="1.3" stroke-linecap="butt"/>
<line x1="285.02" y1="685.3" x2="285.02" y2="661.3" stroke="#2020c4" stroke-width="1.3" stroke-linecap="butt"/>
<line x1="326.58" y1="661.3" x2="340.77" y2="653.11" stroke="#2020c4" stroke-width="1.3" stroke-linecap="butt"/>
<line x1="353.97" y1="653.11" x2="361.55" y2="657.49" stroke="#2020c4" stroke-width="1.3" stroke-linecap="butt"/>
<line x1="374.75" y1="657.49" x2="388.94" y2="649.3" stroke="#000" stroke-width="1.3" stroke-linecap="butt"/>
<line x1="347.37" y1="641.7" x2="347.37" y2="632.9" stroke="#2020c4" stroke-width="1.3" stroke-linecap="butt"/>
<line x1="368.15" y1="668.9" x2="368.15" y2="677.7" stroke="#2020c4" stroke-width="1.3" stroke-linecap="butt"/>
<line x1="390.54" y1="649.3" x2="390.54" y2="632.9" stroke="#000" stroke-width="1.3" stroke-linecap="butt"/>
<line x1="387.34" y1="649.3" x2="387.34" y2="632.9" stroke="#000" stroke-width="1.3" stroke-linecap="butt"/>
<line x1="388.94" y1="649.3" x2="409.72" y2="661.3" stroke="#000" stroke-width="1.3" stroke-linecap="butt"/>
<line x1="409.72" y1="661.3" x2="423.91" y2="653.11" stroke="#000" stroke-width="1.3" stroke-linecap="butt"/>
<line x1="409.72" y1="661.3" x2="409.72" y2="685.3" stroke="#000" stroke-width="1.3" stroke-linecap="butt"/>
<line x1="409.72" y1="685.3" x2="397.72" y2="706.08" stroke="#000" stroke-width="1.3" stroke-linecap="butt"/>
<line x1="409.72" y1="685.3" x2="421.72" y2="706.08" stroke="#000" stroke-width="1.3" stroke-linecap="butt"/>
<line x1="397.72" y1="706.08" x2="421.72" y2="706.08" stroke="#000" stroke-width="1.3" stroke-linecap="butt"/>
<line x1="421.72" y1="706.08" x2="435.91" y2="714.27" stroke="#000" stroke-width="1.3" stroke-linecap="butt"/>
<text x="321.71" y="690.13" font-size="13.5" fill="#2020c4" text-anchor="start">N</text>
<text x="342.49" y="654.13" font-size="13.5" fill="#2020c4" text-anchor="start">N</text>
<text x="363.28" y="666.13" font-size="13.5" fill="#2020c4" text-anchor="start">N</text>
<text x="342.49" y="630.13" font-size="13.5" fill="#2020c4" text-anchor="start">H</text>
<text x="363.28" y="690.13" font-size="13.5" fill="#2020c4" text-anchor="start">H</text>
<text x="383.69" y="630.13" font-size="13.5" fill="#000" text-anchor="start">O</text>
<text x="426.01" y="654.13" font-size="13.5" fill="#000" text-anchor="start">Ph</text>
<text x="438.01" y="722.92" font-size="13.5" fill="#000" text-anchor="start">Ph</text>
<text x="363.66" y="745.4" font-size="16.4" fill="#000" text-anchor="start" font-weight="bold">75</text>
<text x="514.78" y="644.4" font-size="16.4" fill="#000" text-anchor="start">C (+)</text>
<rect x="556.2" y="629.9" width="8.2" height="17.6" fill="#000"/>
<line x1="560.5" y1="630.4" x2="560.5" y2="617.8" stroke="#000" stroke-width="1.6" stroke-linecap="square"/>
<line x1="560.5" y1="617.8" x2="578.4" y2="617.8" stroke="#000" stroke-width="1.6" stroke-linecap="butt"/>
<line x1="578.4" y1="610" x2="578.4" y2="625.6" stroke="#000" stroke-width="1.9" stroke-linecap="butt"/>
<line x1="583.5" y1="613" x2="583.5" y2="621.7" stroke="#000" stroke-width="2" stroke-linecap="butt"/>
<line x1="583.5" y1="617.8" x2="601.5" y2="617.8" stroke="#000" stroke-width="1.6" stroke-linecap="square"/>
<line x1="601.5" y1="617.8" x2="601.5" y2="630.4" stroke="#000" stroke-width="1.6" stroke-linecap="butt"/>
<rect x="598.05" y="630.55" width="6.8" height="16.4" fill="none" stroke="#000" stroke-width="1.3"/>
<text x="610.29" y="644.4" font-size="16.4" fill="#000" text-anchor="start">Pt (–)</text>
<line x1="495" y1="675" x2="650.2" y2="675" stroke="#000" stroke-width="1.8" stroke-linecap="butt"/>
<polygon points="662.2,675 647.7,670.9 650.2,675 647.7,679.1" fill="#000"/>
<text x="510.26" y="670.4" font-size="16.4" fill="#000" text-anchor="start">Standard condition</text>
<line x1="696.22" y1="655.8" x2="717" y2="643.8" stroke="#2020c4" stroke-width="1.3" stroke-linecap="butt"/>
<line x1="700.97" y1="657.79" x2="716.35" y2="648.91" stroke="#2020c4" stroke-width="1.3" stroke-linecap="butt"/>
<line x1="717" y1="643.8" x2="737.78" y2="655.8" stroke="#2020c4" stroke-width="1.3" stroke-linecap="butt"/>
<line x1="737.78" y1="655.8" x2="737.78" y2="672.2" stroke="#2020c4" stroke-width="1.3" stroke-linecap="butt"/>
<line x1="731.18" y1="683.61" x2="717" y2="691.8" stroke="#2020c4" stroke-width="1.3" stroke-linecap="butt"/>
<line x1="717" y1="691.8" x2="696.22" y2="679.8" stroke="#2020c4" stroke-width="1.3" stroke-linecap="butt"/>
<line x1="716.35" y1="686.69" x2="700.97" y2="677.81" stroke="#2020c4" stroke-width="1.3" stroke-linecap="butt"/>
<line x1="696.22" y1="679.8" x2="696.22" y2="655.8" stroke="#2020c4" stroke-width="1.3" stroke-linecap="butt"/>
<line x1="737.78" y1="655.8" x2="754.01" y2="650.53" stroke="#2020c4" stroke-width="1.3" stroke-linecap="butt"/>
<line x1="742.02" y1="658.73" x2="755.28" y2="654.42" stroke="#2020c4" stroke-width="1.3" stroke-linecap="butt"/>
<line x1="766.14" y1="655.98" x2="769.2" y2="660.2" stroke="#2020c4" stroke-width="1.3" stroke-linecap="butt"/>
<line x1="769.2" y1="675.4" x2="760.61" y2="687.22" stroke="#2020c4" stroke-width="1.3" stroke-linecap="butt"/>
<line x1="759.09" y1="687.71" x2="764.04" y2="702.94" stroke="#000" stroke-width="1.3" stroke-linecap="butt"/>
<line x1="762.14" y1="686.73" x2="767.08" y2="701.95" stroke="#000" stroke-width="1.3" stroke-linecap="butt"/>
<line x1="781.32" y1="667.8" x2="798.72" y2="667.8" stroke="#e01c1c" stroke-width="3.2" stroke-linecap="butt"/>
<line x1="744.38" y1="681.95" x2="760.61" y2="687.22" stroke="#e01c1c" stroke-width="3.2" stroke-linecap="butt"/>
<line x1="798.72" y1="667.8" x2="806.34" y2="654.62" stroke="#000" stroke-width="1.3" stroke-linecap="butt"/>
<line x1="798.72" y1="667.8" x2="810.72" y2="688.58" stroke="#000" stroke-width="1.3" stroke-linecap="butt"/>
<line x1="810.72" y1="688.58" x2="810.72" y2="712.58" stroke="#000" stroke-width="1.3" stroke-linecap="butt"/>
<line x1="810.72" y1="688.58" x2="831.51" y2="700.58" stroke="#000" stroke-width="1.3" stroke-linecap="butt"/>
<line x1="810.72" y1="712.58" x2="831.51" y2="700.58" stroke="#000" stroke-width="1.3" stroke-linecap="butt"/>
<line x1="831.51" y1="700.58" x2="848.91" y2="700.58" stroke="#000" stroke-width="1.3" stroke-linecap="butt"/>
<text x="732.91" y="684.63" font-size="13.5" fill="#2020c4" text-anchor="start">N</text>
<text x="755.74" y="653.21" font-size="13.5" fill="#2020c4" text-anchor="start">N</text>
<text x="769.85" y="672.63" font-size="13.5" fill="#2020c4" text-anchor="start">N</text>
<text x="762.78" y="714.88" font-size="13.5" fill="#000" text-anchor="start">O</text>
<text x="806.22" y="651.85" font-size="13.5" fill="#000" text-anchor="start">Ph</text>
<text x="851.01" y="705.42" font-size="13.5" fill="#000" text-anchor="start">Ph</text>
<text x="742.06" y="744.9" font-size="16.4" fill="#000" text-anchor="start"><tspan font-weight="bold">76</tspan>, 64%</text>
<line x1="915.52" y1="660.3" x2="936.3" y2="648.3" stroke="#2020c4" stroke-width="1.3" stroke-linecap="butt"/>
<line x1="920.27" y1="662.29" x2="935.65" y2="653.41" stroke="#2020c4" stroke-width="1.3" stroke-linecap="butt"/>
<line x1="936.3" y1="648.3" x2="957.08" y2="660.3" stroke="#2020c4" stroke-width="1.3" stroke-linecap="butt"/>
<line x1="957.08" y1="660.3" x2="957.08" y2="676.7" stroke="#2020c4" stroke-width="1.3" stroke-linecap="butt"/>
<line x1="950.48" y1="688.11" x2="936.3" y2="696.3" stroke="#2020c4" stroke-width="1.3" stroke-linecap="butt"/>
<line x1="936.3" y1="696.3" x2="915.52" y2="684.3" stroke="#2020c4" stroke-width="1.3" stroke-linecap="butt"/>
<line x1="935.65" y1="691.19" x2="920.27" y2="682.31" stroke="#2020c4" stroke-width="1.3" stroke-linecap="butt"/>
<line x1="915.52" y1="684.3" x2="915.52" y2="660.3" stroke="#2020c4" stroke-width="1.3" stroke-linecap="butt"/>
<line x1="957.08" y1="660.3" x2="973.31" y2="655.03" stroke="#2020c4" stroke-width="1.3" stroke-linecap="butt"/>
<line x1="961.32" y1="663.23" x2="974.58" y2="658.92" stroke="#2020c4" stroke-width="1.3" stroke-linecap="butt"/>
<line x1="985.44" y1="660.48" x2="988.5" y2="664.7" stroke="#2020c4" stroke-width="1.3" stroke-linecap="butt"/>
<line x1="988.5" y1="679.9" x2="979.91" y2="691.72" stroke="#2020c4" stroke-width="1.3" stroke-linecap="butt"/>
<line x1="978.39" y1="692.21" x2="983.34" y2="707.44" stroke="#000" stroke-width="1.3" stroke-linecap="butt"/>
<line x1="981.44" y1="691.23" x2="986.38" y2="706.45" stroke="#000" stroke-width="1.3" stroke-linecap="butt"/>
<line x1="1000.62" y1="672.3" x2="1018.02" y2="672.3" stroke="#e01c1c" stroke-width="3.2" stroke-linecap="butt"/>
<line x1="963.68" y1="686.45" x2="979.91" y2="691.72" stroke="#e01c1c" stroke-width="3.2" stroke-linecap="butt"/>
<line x1="1018.02" y1="672.3" x2="1025.64" y2="659.12" stroke="#000" stroke-width="1.3" stroke-linecap="butt"/>
<line x1="1018.02" y1="672.3" x2="1030.02" y2="693.08" stroke="#000" stroke-width="1.3" stroke-linecap="butt"/>
<line x1="1030.02" y1="693.08" x2="1054.02" y2="693.08" stroke="#000" stroke-width="1.3" stroke-linecap="butt"/>
<line x1="1054.02" y1="693.08" x2="1066.02" y2="713.87" stroke="#000" stroke-width="1.3" stroke-linecap="butt"/>
<line x1="1051.91" y1="697.63" x2="1061.03" y2="713.43" stroke="#000" stroke-width="1.3" stroke-linecap="butt"/>
<line x1="1066.02" y1="713.87" x2="1083.42" y2="713.87" stroke="#000" stroke-width="1.3" stroke-linecap="butt"/>
<text x="952.21" y="689.13" font-size="13.5" fill="#2020c4" text-anchor="start">N</text>
<text x="975.04" y="657.71" font-size="13.5" fill="#2020c4" text-anchor="start">N</text>
<text x="989.15" y="677.13" font-size="13.5" fill="#2020c4" text-anchor="start">N</text>
<text x="982.08" y="719.38" font-size="13.5" fill="#000" text-anchor="start">O</text>
<text x="1025.52" y="656.35" font-size="13.5" fill="#000" text-anchor="start">Ph</text>
<text x="1085.52" y="718.7" font-size="13.5" fill="#000" text-anchor="start">Ph</text>
<text x="942.02" y="747.4" font-size="12.9" fill="#000" text-anchor="start"><tspan font-weight="bold">77</tspan>, not detected</text>
<line x1="272.9" y1="761" x2="1109.9" y2="761" stroke="#000" stroke-width="2" stroke-linecap="butt"/>
<text x="246.72" y="805.6" font-size="27" fill="#000" text-anchor="start" font-weight="bold">d</text>
<text x="276.16" y="809.3" font-size="16.7" fill="#000" text-anchor="start">No electrogenerated carbocation formation</text>
<line x1="283.72" y1="874.6" x2="304.5" y2="862.6" stroke="#2020c4" stroke-width="1.3" stroke-linecap="butt"/>
<line x1="288.47" y1="876.59" x2="303.85" y2="867.71" stroke="#2020c4" stroke-width="1.3" stroke-linecap="butt"/>
<line x1="304.5" y1="862.6" x2="325.28" y2="874.6" stroke="#2020c4" stroke-width="1.3" stroke-linecap="butt"/>
<line x1="325.28" y1="874.6" x2="325.28" y2="891" stroke="#2020c4" stroke-width="1.3" stroke-linecap="butt"/>
<line x1="321.18" y1="877.72" x2="321.18" y2="891" stroke="#2020c4" stroke-width="1.3" stroke-linecap="butt"/>
<line x1="318.68" y1="902.41" x2="304.5" y2="910.6" stroke="#2020c4" stroke-width="1.3" stroke-linecap="butt"/>
<line x1="304.5" y1="910.6" x2="283.72" y2="898.6" stroke="#2020c4" stroke-width="1.3" stroke-linecap="butt"/>
<line x1="303.85" y1="905.49" x2="288.47" y2="896.61" stroke="#2020c4" stroke-width="1.3" stroke-linecap="butt"/>
<line x1="283.72" y1="898.6" x2="283.72" y2="874.6" stroke="#2020c4" stroke-width="1.3" stroke-linecap="butt"/>
<line x1="325.28" y1="874.6" x2="339.47" y2="866.41" stroke="#2020c4" stroke-width="1.3" stroke-linecap="butt"/>
<line x1="352.67" y1="866.41" x2="360.25" y2="870.79" stroke="#2020c4" stroke-width="1.3" stroke-linecap="butt"/>
<line x1="373.45" y1="870.79" x2="387.64" y2="862.6" stroke="#000" stroke-width="1.3" stroke-linecap="butt"/>
<line x1="346.07" y1="855" x2="346.07" y2="846.2" stroke="#2020c4" stroke-width="1.3" stroke-linecap="butt"/>
<line x1="366.85" y1="882.2" x2="366.85" y2="891" stroke="#2020c4" stroke-width="1.3" stroke-linecap="butt"/>
<line x1="389.24" y1="862.6" x2="389.24" y2="846.2" stroke="#000" stroke-width="1.3" stroke-linecap="butt"/>
<line x1="386.04" y1="862.6" x2="386.04" y2="846.2" stroke="#000" stroke-width="1.3" stroke-linecap="butt"/>
<line x1="387.64" y1="862.6" x2="408.42" y2="874.6" stroke="#000" stroke-width="1.3" stroke-linecap="butt"/>
<line x1="408.42" y1="874.6" x2="429.21" y2="862.6" stroke="#000" stroke-width="1.3" stroke-linecap="butt"/>
<line x1="429.21" y1="862.6" x2="443.39" y2="870.79" stroke="#000" stroke-width="1.3" stroke-linecap="butt"/>
<line x1="408.42" y1="874.6" x2="404.05" y2="891.6" stroke="#000" stroke-width="1.3" stroke-linecap="butt"/>
<line x1="408.42" y1="874.6" x2="420.85" y2="885" stroke="#000" stroke-width="1.3" stroke-linecap="butt"/>
<text x="320.41" y="903.43" font-size="13.5" fill="#2020c4" text-anchor="start">N</text>
<text x="341.19" y="867.43" font-size="13.5" fill="#2020c4" text-anchor="start">N</text>
<text x="361.98" y="879.43" font-size="13.5" fill="#2020c4" text-anchor="start">N</text>
<text x="341.19" y="843.43" font-size="13.5" fill="#2020c4" text-anchor="start">H</text>
<text x="361.98" y="903.43" font-size="13.5" fill="#2020c4" text-anchor="start">H</text>
<text x="382.39" y="843.43" font-size="13.5" fill="#000" text-anchor="start">O</text>
<text x="444.74" y="879.43" font-size="13.5" fill="#000" text-anchor="start">OBn</text>
<text x="406.15" y="902.83" font-size="13.5" fill="#000" text-anchor="end">Me</text>
<text x="428.5" y="896.23" font-size="13.5" fill="#000" text-anchor="middle">Me</text>
<text x="356.26" y="938.9" font-size="16.4" fill="#000" text-anchor="start" font-weight="bold">78</text>
<text x="513.68" y="857.6" font-size="16.4" fill="#000" text-anchor="start">C (+)</text>
<rect x="554.8" y="843" width="8.2" height="17.6" fill="#000"/>
<line x1="559.1" y1="843.5" x2="559.1" y2="830.9" stroke="#000" stroke-width="1.6" stroke-linecap="square"/>
<line x1="559.1" y1="830.9" x2="577" y2="830.9" stroke="#000" stroke-width="1.6" stroke-linecap="butt"/>
<line x1="577" y1="823.1" x2="577" y2="838.7" stroke="#000" stroke-width="1.9" stroke-linecap="butt"/>
<line x1="582.1" y1="826.1" x2="582.1" y2="834.8" stroke="#000" stroke-width="2" stroke-linecap="butt"/>
<line x1="582.1" y1="830.9" x2="600.1" y2="830.9" stroke="#000" stroke-width="1.6" stroke-linecap="square"/>
<line x1="600.1" y1="830.9" x2="600.1" y2="843.5" stroke="#000" stroke-width="1.6" stroke-linecap="butt"/>
<rect x="596.65" y="843.65" width="6.8" height="16.4" fill="none" stroke="#000" stroke-width="1.3"/>
<text x="609.49" y="857.6" font-size="16.4" fill="#000" text-anchor="start">Pt (–)</text>
<line x1="494.2" y1="887.8" x2="648.9" y2="887.8" stroke="#000" stroke-width="1.8" stroke-linecap="butt"/>
<polygon points="660.9,887.8 646.4,883.7 648.9,887.8 646.4,891.9" fill="#000"/>
<text x="507.86" y="884.2" font-size="16.4" fill="#000" text-anchor="start">Standard condition</text>
<line x1="702.52" y1="834.4" x2="723.3" y2="822.4" stroke="#2020c4" stroke-width="1.3" stroke-linecap="butt"/>
<line x1="707.27" y1="836.39" x2="722.65" y2="827.51" stroke="#2020c4" stroke-width="1.3" stroke-linecap="butt"/>
<line x1="723.3" y1="822.4" x2="744.08" y2="834.4" stroke="#2020c4" stroke-width="1.3" stroke-linecap="butt"/>
<line x1="744.08" y1="834.4" x2="744.08" y2="850.8" stroke="#2020c4" stroke-width="1.3" stroke-linecap="butt"/>
<line x1="737.48" y1="862.21" x2="723.3" y2="870.4" stroke="#2020c4" stroke-width="1.3" stroke-linecap="butt"/>
<line x1="723.3" y1="870.4" x2="702.52" y2="858.4" stroke="#2020c4" stroke-width="1.3" stroke-linecap="butt"/>
<line x1="722.65" y1="865.29" x2="707.27" y2="856.41" stroke="#2020c4" stroke-width="1.3" stroke-linecap="butt"/>
<line x1="702.52" y1="858.4" x2="702.52" y2="834.4" stroke="#2020c4" stroke-width="1.3" stroke-linecap="butt"/>
<line x1="744.08" y1="834.4" x2="760.31" y2="829.13" stroke="#2020c4" stroke-width="1.3" stroke-linecap="butt"/>
<line x1="748.32" y1="837.33" x2="761.58" y2="833.02" stroke="#2020c4" stroke-width="1.3" stroke-linecap="butt"/>
<line x1="772.44" y1="834.58" x2="775.5" y2="838.8" stroke="#2020c4" stroke-width="1.3" stroke-linecap="butt"/>
<line x1="775.5" y1="854" x2="766.91" y2="865.82" stroke="#2020c4" stroke-width="1.3" stroke-linecap="butt"/>
<line x1="765.39" y1="866.31" x2="770.34" y2="881.54" stroke="#000" stroke-width="1.3" stroke-linecap="butt"/>
<line x1="768.44" y1="865.33" x2="773.38" y2="880.55" stroke="#000" stroke-width="1.3" stroke-linecap="butt"/>
<line x1="787.62" y1="846.4" x2="805.02" y2="846.4" stroke="#e01c1c" stroke-width="3.2" stroke-linecap="butt"/>
<line x1="750.68" y1="860.55" x2="766.91" y2="865.82" stroke="#e01c1c" stroke-width="3.2" stroke-linecap="butt"/>
<line x1="805.02" y1="846.4" x2="817.02" y2="825.62" stroke="#000" stroke-width="1.3" stroke-linecap="butt"/>
<line x1="817.02" y1="825.62" x2="836" y2="825.6" stroke="#000" stroke-width="1.3" stroke-linecap="butt"/>
<line x1="805.02" y1="846.4" x2="823" y2="846.55" stroke="#000" stroke-width="1.3" stroke-linecap="butt"/>
<line x1="805.02" y1="846.4" x2="813.61" y2="859.7" stroke="#000" stroke-width="1.3" stroke-linecap="butt"/>
<text x="739.21" y="863.23" font-size="13.5" fill="#2020c4" text-anchor="start">N</text>
<text x="762.04" y="831.81" font-size="13.5" fill="#2020c4" text-anchor="start">N</text>
<text x="776.15" y="851.23" font-size="13.5" fill="#2020c4" text-anchor="start">N</text>
<text x="769.08" y="893.48" font-size="13.5" fill="#000" text-anchor="start">O</text>
<text x="836.25" y="830.43" font-size="13.5" fill="#000" text-anchor="start">OBn</text>
<text x="822.98" y="851.43" font-size="13.5" fill="#000" text-anchor="start">Me</text>
<text x="812.18" y="871.03" font-size="13.5" fill="#000" text-anchor="start">Me</text>
<text x="747.86" y="922.5" font-size="16.4" fill="#000" text-anchor="start"><tspan font-weight="bold">79</tspan>, 56%</text>
<line x1="916.52" y1="838.3" x2="937.3" y2="826.3" stroke="#2020c4" stroke-width="1.3" stroke-linecap="butt"/>
<line x1="921.27" y1="840.29" x2="936.65" y2="831.41" stroke="#2020c4" stroke-width="1.3" stroke-linecap="butt"/>
<line x1="937.3" y1="826.3" x2="958.08" y2="838.3" stroke="#2020c4" stroke-width="1.3" stroke-linecap="butt"/>
<line x1="958.08" y1="838.3" x2="958.08" y2="854.7" stroke="#2020c4" stroke-width="1.3" stroke-linecap="butt"/>
<line x1="951.48" y1="866.11" x2="937.3" y2="874.3" stroke="#2020c4" stroke-width="1.3" stroke-linecap="butt"/>
<line x1="937.3" y1="874.3" x2="916.52" y2="862.3" stroke="#2020c4" stroke-width="1.3" stroke-linecap="butt"/>
<line x1="936.65" y1="869.19" x2="921.27" y2="860.31" stroke="#2020c4" stroke-width="1.3" stroke-linecap="butt"/>
<line x1="916.52" y1="862.3" x2="916.52" y2="838.3" stroke="#2020c4" stroke-width="1.3" stroke-linecap="butt"/>
<line x1="958.08" y1="838.3" x2="974.31" y2="833.03" stroke="#2020c4" stroke-width="1.3" stroke-linecap="butt"/>
<line x1="962.32" y1="841.23" x2="975.58" y2="836.92" stroke="#2020c4" stroke-width="1.3" stroke-linecap="butt"/>
<line x1="986.44" y1="838.48" x2="989.5" y2="842.7" stroke="#2020c4" stroke-width="1.3" stroke-linecap="butt"/>
<line x1="989.5" y1="857.9" x2="980.91" y2="869.72" stroke="#2020c4" stroke-width="1.3" stroke-linecap="butt"/>
<line x1="979.39" y1="870.21" x2="984.34" y2="885.44" stroke="#000" stroke-width="1.3" stroke-linecap="butt"/>
<line x1="982.44" y1="869.23" x2="987.38" y2="884.45" stroke="#000" stroke-width="1.3" stroke-linecap="butt"/>
<line x1="1001.62" y1="850.3" x2="1019.02" y2="850.3" stroke="#e01c1c" stroke-width="3.2" stroke-linecap="butt"/>
<line x1="964.68" y1="864.45" x2="980.91" y2="869.72" stroke="#e01c1c" stroke-width="3.2" stroke-linecap="butt"/>
<line x1="1019.02" y1="850.3" x2="1031.02" y2="829.52" stroke="#000" stroke-width="1.3" stroke-linecap="butt"/>
<line x1="1031.02" y1="829.52" x2="1023.41" y2="816.33" stroke="#000" stroke-width="1.3" stroke-linecap="butt"/>
<line x1="1031.02" y1="829.52" x2="1048.42" y2="829.52" stroke="#000" stroke-width="1.3" stroke-linecap="butt"/>
<line x1="1019.02" y1="850.3" x2="1026.64" y2="863.48" stroke="#000" stroke-width="1.3" stroke-linecap="butt"/>
<text x="953.21" y="867.13" font-size="13.5" fill="#2020c4" text-anchor="start">N</text>
<text x="976.04" y="835.71" font-size="13.5" fill="#2020c4" text-anchor="start">N</text>
<text x="990.15" y="855.13" font-size="13.5" fill="#2020c4" text-anchor="start">N</text>
<text x="983.08" y="897.38" font-size="13.5" fill="#000" text-anchor="start">O</text>
<text x="1022.78" y="813.56" font-size="13.5" fill="#000" text-anchor="end">Me</text>
<text x="1049.4" y="834.35" font-size="13.5" fill="#000" text-anchor="start">Me</text>
<text x="1025.77" y="875.92" font-size="13.5" fill="#000" text-anchor="start">OBn</text>
<text x="942.91" y="922.3" font-size="16.4" fill="#000" text-anchor="start"><tspan font-weight="bold">80</tspan>, not detected</text>
<path d="M846.2,921 H840.6 V991.8 H846.2" fill="none" stroke="#000" stroke-width="1.7"/>
<path d="M1108.4,921 H1113.2 V991.8 H1108.4" fill="none" stroke="#000" stroke-width="1.7"/>
<line x1="883.2" y1="955.6" x2="903.98" y2="943.6" stroke="#000" stroke-width="1.3" stroke-linecap="butt"/>
<line x1="903.98" y1="943.6" x2="903.98" y2="927.9" stroke="#000" stroke-width="1.3" stroke-linecap="butt"/>
<line x1="903.98" y1="943.6" x2="918.17" y2="951.79" stroke="#000" stroke-width="1.3" stroke-linecap="butt"/>
<line x1="883.2" y1="955.6" x2="879.08" y2="973.2" stroke="#000" stroke-width="1.3" stroke-linecap="butt"/>
<line x1="883.2" y1="955.6" x2="896.63" y2="967.5" stroke="#000" stroke-width="1.3" stroke-linecap="butt"/>
<text x="899.29" y="924.95" font-size="13" fill="#000" text-anchor="start">H</text>
<text x="919.71" y="960.25" font-size="13" fill="#000" text-anchor="start">OBn</text>
<text x="881.22" y="984.15" font-size="13" fill="#000" text-anchor="end">Me</text>
<text x="903.4" y="978.15" font-size="13" fill="#000" text-anchor="middle">Me</text>
<circle cx="872.6" cy="956.1" r="4" fill="none" stroke="#000" stroke-width="1.5"/>
<line x1="870.1" y1="956.1" x2="875.1" y2="956.1" stroke="#000" stroke-width="1.6" stroke-linecap="butt"/>
<line x1="872.6" y1="953.6" x2="872.6" y2="958.6" stroke="#000" stroke-width="1.6" stroke-linecap="butt"/>
<path d="M895.2,927.0 C889,928.5 884.8,933 884.4,940.5" fill="none" stroke="#000" stroke-width="1.3"/>
<polygon points="884.3,946.6 881.1,938.1 884.3,940.1 887.5,938.1" fill="#000"/>
<line x1="964" y1="958.2" x2="1004.6" y2="958.2" stroke="#000" stroke-width="1.7" stroke-linecap="butt"/>
<polygon points="1015.1,958.2 1002.1,954.2 1004.6,958.2 1002.1,962.2" fill="#000"/>
<line x1="1035.3" y1="958.2" x2="1056.08" y2="946.2" stroke="#000" stroke-width="1.3" stroke-linecap="butt"/>
<line x1="1056.08" y1="946.2" x2="1070.27" y2="954.39" stroke="#000" stroke-width="1.3" stroke-linecap="butt"/>
<line x1="1035.3" y1="958.2" x2="1030.99" y2="975.3" stroke="#000" stroke-width="1.3" stroke-linecap="butt"/>
<line x1="1035.3" y1="958.2" x2="1048.37" y2="969.2" stroke="#000" stroke-width="1.3" stroke-linecap="butt"/>
<text x="1071.81" y="962.85" font-size="13" fill="#000" text-anchor="start">OBn</text>
<text x="1033.02" y="986.25" font-size="13" fill="#000" text-anchor="end">Me</text>
<text x="1055.5" y="979.85" font-size="13" fill="#000" text-anchor="middle">Me</text>
<circle cx="1056.4" cy="936.9" r="4" fill="none" stroke="#000" stroke-width="1.5"/>
<line x1="1053.9" y1="936.9" x2="1058.9" y2="936.9" stroke="#000" stroke-width="1.6" stroke-linecap="butt"/>
<line x1="1056.4" y1="934.4" x2="1056.4" y2="939.4" stroke="#000" stroke-width="1.6" stroke-linecap="butt"/>
<line x1="269" y1="1001" x2="1105.5" y2="1001" stroke="#000" stroke-width="2" stroke-linecap="butt"/>
<text x="246.72" y="1042.2" font-size="27" fill="#000" text-anchor="start" font-weight="bold">e</text>
<text x="277.66" y="1044.5" font-size="16.7" fill="#000" text-anchor="start">Key intermediate isolation</text>
<line x1="269.92" y1="1115.6" x2="290.7" y2="1103.6" stroke="#2020c4" stroke-width="1.3" stroke-linecap="butt"/>
<line x1="274.67" y1="1117.59" x2="290.05" y2="1108.71" stroke="#2020c4" stroke-width="1.3" stroke-linecap="butt"/>
<line x1="290.7" y1="1103.6" x2="311.48" y2="1115.6" stroke="#2020c4" stroke-width="1.3" stroke-linecap="butt"/>
<line x1="311.48" y1="1115.6" x2="311.48" y2="1132" stroke="#2020c4" stroke-width="1.3" stroke-linecap="butt"/>
<line x1="307.38" y1="1118.72" x2="307.38" y2="1132" stroke="#2020c4" stroke-width="1.3" stroke-linecap="butt"/>
<line x1="304.88" y1="1143.41" x2="290.7" y2="1151.6" stroke="#2020c4" stroke-width="1.3" stroke-linecap="butt"/>
<line x1="290.7" y1="1151.6" x2="269.92" y2="1139.6" stroke="#2020c4" stroke-width="1.3" stroke-linecap="butt"/>
<line x1="290.05" y1="1146.49" x2="274.67" y2="1137.61" stroke="#2020c4" stroke-width="1.3" stroke-linecap="butt"/>
<line x1="269.92" y1="1139.6" x2="269.92" y2="1115.6" stroke="#2020c4" stroke-width="1.3" stroke-linecap="butt"/>
<line x1="311.48" y1="1115.6" x2="325.67" y2="1107.41" stroke="#2020c4" stroke-width="1.3" stroke-linecap="butt"/>
<line x1="338.87" y1="1107.41" x2="346.45" y2="1111.79" stroke="#2020c4" stroke-width="1.3" stroke-linecap="butt"/>
<line x1="359.65" y1="1111.79" x2="373.84" y2="1103.6" stroke="#000" stroke-width="1.3" stroke-linecap="butt"/>
<text x="306.61" y="1144.43" font-size="13.5" fill="#2020c4" text-anchor="start">N</text>
<text x="327.39" y="1108.43" font-size="13.5" fill="#2020c4" text-anchor="start">N</text>
<text x="348.18" y="1120.43" font-size="13.5" fill="#2020c4" text-anchor="start">N</text>
<text x="332.27" y="1096.1" font-size="13.5" fill="#2020c4" text-anchor="middle">H</text>
<text x="353.05" y="1132.1" font-size="13.5" fill="#2020c4" text-anchor="middle">H</text>
<line x1="375.44" y1="1103.6" x2="375.44" y2="1087.2" stroke="#000" stroke-width="1.3" stroke-linecap="butt"/>
<line x1="372.24" y1="1103.6" x2="372.24" y2="1087.2" stroke="#000" stroke-width="1.3" stroke-linecap="butt"/>
<line x1="373.84" y1="1103.6" x2="394.62" y2="1115.6" stroke="#000" stroke-width="1.3" stroke-linecap="butt"/>
<line x1="394.62" y1="1115.6" x2="415.41" y2="1103.6" stroke="#000" stroke-width="1.3" stroke-linecap="butt"/>
<line x1="436.19" y1="1067.6" x2="456.98" y2="1079.6" stroke="#000" stroke-width="1.3" stroke-linecap="butt"/>
<line x1="436.84" y1="1072.71" x2="452.22" y2="1081.59" stroke="#000" stroke-width="1.3" stroke-linecap="butt"/>
<line x1="456.98" y1="1079.6" x2="456.98" y2="1103.6" stroke="#000" stroke-width="1.3" stroke-linecap="butt"/>
<line x1="456.98" y1="1103.6" x2="436.19" y2="1115.6" stroke="#000" stroke-width="1.3" stroke-linecap="butt"/>
<line x1="452.22" y1="1101.61" x2="436.84" y2="1110.49" stroke="#000" stroke-width="1.3" stroke-linecap="butt"/>
<line x1="436.19" y1="1115.6" x2="415.41" y2="1103.6" stroke="#000" stroke-width="1.3" stroke-linecap="butt"/>
<line x1="415.41" y1="1103.6" x2="415.41" y2="1079.6" stroke="#000" stroke-width="1.3" stroke-linecap="butt"/>
<line x1="419.51" y1="1100.48" x2="419.51" y2="1082.72" stroke="#000" stroke-width="1.3" stroke-linecap="butt"/>
<line x1="415.41" y1="1079.6" x2="436.19" y2="1067.6" stroke="#000" stroke-width="1.3" stroke-linecap="butt"/>
<line x1="394.62" y1="1115.6" x2="394.62" y2="1132" stroke="#000" stroke-width="1.3" stroke-linecap="butt"/>
<line x1="401.22" y1="1144.4" x2="414.04" y2="1153.71" stroke="#000" stroke-width="1.3" stroke-linecap="butt"/>
<line x1="388.02" y1="1144.4" x2="375.2" y2="1153.71" stroke="#000" stroke-width="1.3" stroke-linecap="butt"/>
<line x1="414.04" y1="1153.71" x2="406.62" y2="1176.54" stroke="#000" stroke-width="1.3" stroke-linecap="butt"/>
<line x1="375.2" y1="1153.71" x2="382.62" y2="1176.54" stroke="#000" stroke-width="1.3" stroke-linecap="butt"/>
<line x1="414.54" y1="1155.23" x2="430.76" y2="1149.96" stroke="#000" stroke-width="1.3" stroke-linecap="butt"/>
<line x1="413.55" y1="1152.19" x2="429.77" y2="1146.92" stroke="#000" stroke-width="1.3" stroke-linecap="butt"/>
<line x1="375.7" y1="1152.19" x2="359.47" y2="1146.92" stroke="#000" stroke-width="1.3" stroke-linecap="butt"/>
<line x1="374.71" y1="1155.23" x2="358.48" y2="1149.96" stroke="#000" stroke-width="1.3" stroke-linecap="butt"/>
<line x1="370.62" y1="1197.32" x2="382.62" y2="1176.54" stroke="#000" stroke-width="1.3" stroke-linecap="butt"/>
<line x1="382.62" y1="1176.54" x2="406.62" y2="1176.54" stroke="#000" stroke-width="1.3" stroke-linecap="butt"/>
<line x1="385.74" y1="1180.64" x2="403.5" y2="1180.64" stroke="#000" stroke-width="1.3" stroke-linecap="butt"/>
<line x1="406.62" y1="1176.54" x2="418.62" y2="1197.32" stroke="#000" stroke-width="1.3" stroke-linecap="butt"/>
<line x1="418.62" y1="1197.32" x2="406.62" y2="1218.1" stroke="#000" stroke-width="1.3" stroke-linecap="butt"/>
<line x1="413.51" y1="1197.97" x2="404.63" y2="1213.35" stroke="#000" stroke-width="1.3" stroke-linecap="butt"/>
<line x1="406.62" y1="1218.1" x2="382.62" y2="1218.1" stroke="#000" stroke-width="1.3" stroke-linecap="butt"/>
<line x1="382.62" y1="1218.1" x2="370.62" y2="1197.32" stroke="#000" stroke-width="1.3" stroke-linecap="butt"/>
<line x1="384.61" y1="1213.35" x2="375.73" y2="1197.97" stroke="#000" stroke-width="1.3" stroke-linecap="butt"/>
<text x="368.59" y="1084.43" font-size="13.5" fill="#000" text-anchor="start">O</text>
<text x="389.75" y="1144.43" font-size="13.5" fill="#000" text-anchor="start">N</text>
<text x="431.62" y="1151.13" font-size="13.5" fill="#000" text-anchor="start">O</text>
<text x="347.13" y="1151.13" font-size="13.5" fill="#000" text-anchor="start">O</text>
<text x="327.71" y="1212.4" font-size="16.4" fill="#000" text-anchor="start" font-weight="bold">81</text>
<text x="468.18" y="1130.9" font-size="16.4" fill="#000" text-anchor="start">C (+)</text>
<rect x="509.5" y="1116.5" width="8.2" height="17.6" fill="#000"/>
<line x1="513.8" y1="1117" x2="513.8" y2="1104.4" stroke="#000" stroke-width="1.6" stroke-linecap="square"/>
<line x1="513.8" y1="1104.4" x2="531.7" y2="1104.4" stroke="#000" stroke-width="1.6" stroke-linecap="butt"/>
<line x1="531.7" y1="1096.6" x2="531.7" y2="1112.2" stroke="#000" stroke-width="1.9" stroke-linecap="butt"/>
<line x1="536.8" y1="1099.6" x2="536.8" y2="1108.3" stroke="#000" stroke-width="2" stroke-linecap="butt"/>
<line x1="536.8" y1="1104.4" x2="554.8" y2="1104.4" stroke="#000" stroke-width="1.6" stroke-linecap="square"/>
<line x1="554.8" y1="1104.4" x2="554.8" y2="1117" stroke="#000" stroke-width="1.6" stroke-linecap="butt"/>
<rect x="551.35" y="1117.15" width="6.8" height="16.4" fill="none" stroke="#000" stroke-width="1.3"/>
<text x="564.09" y="1130.9" font-size="16.4" fill="#000" text-anchor="start">Pt (–)</text>
<line x1="449.2" y1="1161" x2="603.4" y2="1161" stroke="#000" stroke-width="1.8" stroke-linecap="butt"/>
<polygon points="615.4,1161 600.9,1156.9 603.4,1161 600.9,1165.1" fill="#000"/>
<text x="463.66" y="1156.4" font-size="16.4" fill="#000" text-anchor="start">Standard condition</text>
<line x1="627.92" y1="1097.3" x2="648.7" y2="1085.3" stroke="#2020c4" stroke-width="1.3" stroke-linecap="butt"/>
<line x1="632.67" y1="1099.29" x2="648.05" y2="1090.41" stroke="#2020c4" stroke-width="1.3" stroke-linecap="butt"/>
<line x1="648.7" y1="1085.3" x2="669.48" y2="1097.3" stroke="#2020c4" stroke-width="1.3" stroke-linecap="butt"/>
<line x1="669.48" y1="1097.3" x2="669.48" y2="1113.7" stroke="#2020c4" stroke-width="1.3" stroke-linecap="butt"/>
<line x1="662.88" y1="1125.11" x2="648.7" y2="1133.3" stroke="#2020c4" stroke-width="1.3" stroke-linecap="butt"/>
<line x1="648.7" y1="1133.3" x2="627.92" y2="1121.3" stroke="#2020c4" stroke-width="1.3" stroke-linecap="butt"/>
<line x1="648.05" y1="1128.19" x2="632.67" y2="1119.31" stroke="#2020c4" stroke-width="1.3" stroke-linecap="butt"/>
<line x1="627.92" y1="1121.3" x2="627.92" y2="1097.3" stroke="#2020c4" stroke-width="1.3" stroke-linecap="butt"/>
<line x1="669.48" y1="1097.3" x2="685.71" y2="1092.03" stroke="#2020c4" stroke-width="1.3" stroke-linecap="butt"/>
<line x1="673.72" y1="1100.23" x2="686.98" y2="1095.92" stroke="#2020c4" stroke-width="1.3" stroke-linecap="butt"/>
<line x1="697.84" y1="1097.48" x2="700.9" y2="1101.7" stroke="#2020c4" stroke-width="1.3" stroke-linecap="butt"/>
<line x1="700.9" y1="1116.9" x2="692.31" y2="1128.72" stroke="#2020c4" stroke-width="1.3" stroke-linecap="butt"/>
<line x1="690.79" y1="1129.21" x2="695.74" y2="1144.44" stroke="#000" stroke-width="1.3" stroke-linecap="butt"/>
<line x1="693.84" y1="1128.23" x2="698.78" y2="1143.45" stroke="#000" stroke-width="1.3" stroke-linecap="butt"/>
<line x1="713.02" y1="1109.3" x2="730.42" y2="1109.3" stroke="#e01c1c" stroke-width="3.2" stroke-linecap="butt"/>
<line x1="676.08" y1="1123.45" x2="692.31" y2="1128.72" stroke="#e01c1c" stroke-width="3.2" stroke-linecap="butt"/>
<line x1="730.42" y1="1109.3" x2="742.42" y2="1088.52" stroke="#000" stroke-width="1.3" stroke-linecap="butt"/>
<line x1="730.42" y1="1067.74" x2="742.42" y2="1046.95" stroke="#000" stroke-width="1.3" stroke-linecap="butt"/>
<line x1="735.54" y1="1067.08" x2="744.42" y2="1051.7" stroke="#000" stroke-width="1.3" stroke-linecap="butt"/>
<line x1="742.42" y1="1046.95" x2="766.42" y2="1046.95" stroke="#000" stroke-width="1.3" stroke-linecap="butt"/>
<line x1="766.42" y1="1046.95" x2="778.42" y2="1067.74" stroke="#000" stroke-width="1.3" stroke-linecap="butt"/>
<line x1="764.43" y1="1051.7" x2="773.31" y2="1067.08" stroke="#000" stroke-width="1.3" stroke-linecap="butt"/>
<line x1="778.42" y1="1067.74" x2="766.42" y2="1088.52" stroke="#000" stroke-width="1.3" stroke-linecap="butt"/>
<line x1="766.42" y1="1088.52" x2="742.42" y2="1088.52" stroke="#000" stroke-width="1.3" stroke-linecap="butt"/>
<line x1="763.31" y1="1084.42" x2="745.55" y2="1084.42" stroke="#000" stroke-width="1.3" stroke-linecap="butt"/>
<line x1="742.42" y1="1088.52" x2="730.42" y2="1067.74" stroke="#000" stroke-width="1.3" stroke-linecap="butt"/>
<line x1="730.42" y1="1109.3" x2="738.04" y2="1122.48" stroke="#000" stroke-width="1.3" stroke-linecap="butt"/>
<line x1="748.22" y1="1130.08" x2="766.42" y2="1130.08" stroke="#000" stroke-width="1.3" stroke-linecap="butt"/>
<line x1="767.81" y1="1130.88" x2="775.42" y2="1117.7" stroke="#000" stroke-width="1.3" stroke-linecap="butt"/>
<line x1="765.04" y1="1129.28" x2="772.65" y2="1116.1" stroke="#000" stroke-width="1.3" stroke-linecap="butt"/>
<line x1="766.42" y1="1130.08" x2="778.42" y2="1150.87" stroke="#000" stroke-width="1.3" stroke-linecap="butt"/>
<line x1="766.42" y1="1171.65" x2="778.42" y2="1150.87" stroke="#000" stroke-width="1.3" stroke-linecap="butt"/>
<line x1="771.54" y1="1171" x2="780.42" y2="1155.62" stroke="#000" stroke-width="1.3" stroke-linecap="butt"/>
<line x1="778.42" y1="1150.87" x2="802.42" y2="1150.86" stroke="#000" stroke-width="1.3" stroke-linecap="butt"/>
<line x1="802.42" y1="1150.86" x2="814.42" y2="1171.65" stroke="#000" stroke-width="1.3" stroke-linecap="butt"/>
<line x1="800.43" y1="1155.62" x2="809.31" y2="1171" stroke="#000" stroke-width="1.3" stroke-linecap="butt"/>
<line x1="814.42" y1="1171.65" x2="802.42" y2="1192.43" stroke="#000" stroke-width="1.3" stroke-linecap="butt"/>
<line x1="802.42" y1="1192.43" x2="778.42" y2="1192.43" stroke="#000" stroke-width="1.3" stroke-linecap="butt"/>
<line x1="799.3" y1="1188.33" x2="781.54" y2="1188.33" stroke="#000" stroke-width="1.3" stroke-linecap="butt"/>
<line x1="778.42" y1="1192.43" x2="766.42" y2="1171.65" stroke="#000" stroke-width="1.3" stroke-linecap="butt"/>
<text x="664.61" y="1126.13" font-size="13.5" fill="#2020c4" text-anchor="start">N</text>
<text x="687.44" y="1094.71" font-size="13.5" fill="#2020c4" text-anchor="start">N</text>
<text x="701.55" y="1114.13" font-size="13.5" fill="#2020c4" text-anchor="start">N</text>
<text x="694.48" y="1156.38" font-size="13.5" fill="#000" text-anchor="start">O</text>
<text x="747.3" y="1134.92" font-size="13.5" fill="#000" text-anchor="end">HN</text>
<text x="773.17" y="1114.13" font-size="13.5" fill="#000" text-anchor="start">O</text>
<line x1="766.42" y1="1171.65" x2="747.42" y2="1171.65" stroke="#000" stroke-width="1.3" stroke-linecap="butt"/>
<text x="745.8" y="1176.95" font-size="13.2" fill="#000" text-anchor="end">MeO<tspan font-size="9.5" dy="2.8">2</tspan><tspan dy="-2.8">C</tspan></text>
<text x="712.31" y="1219.6" font-size="16.4" fill="#000" text-anchor="start"><tspan font-weight="bold">82</tspan>, 58%</text>
<text x="863" y="1140.9" font-size="16" fill="#000" text-anchor="middle">+</text>
<text x="828.77" y="1046.4" font-size="16.6" fill="#000" text-anchor="start">MeOH, reflux</text>
<text x="846.78" y="1078" font-size="16.4" fill="#000" text-anchor="start">24 h, 79%</text>
<path d="M943.4,1076.4 C925,1048 860,1038 818.5,1070.2" fill="none" stroke="#000" stroke-width="1.4"/>
<polygon points="811.4,1076.6 817.3,1066.01 818.06,1070.57 822.52,1071.78" fill="#000"/>
<line x1="923.22" y1="1098.6" x2="944" y2="1086.6" stroke="#2020c4" stroke-width="1.3" stroke-linecap="butt"/>
<line x1="927.97" y1="1100.59" x2="943.35" y2="1091.71" stroke="#2020c4" stroke-width="1.3" stroke-linecap="butt"/>
<line x1="944" y1="1086.6" x2="964.78" y2="1098.6" stroke="#2020c4" stroke-width="1.3" stroke-linecap="butt"/>
<line x1="964.78" y1="1098.6" x2="964.78" y2="1115" stroke="#2020c4" stroke-width="1.3" stroke-linecap="butt"/>
<line x1="960.68" y1="1101.72" x2="960.68" y2="1115" stroke="#2020c4" stroke-width="1.3" stroke-linecap="butt"/>
<line x1="958.18" y1="1126.41" x2="944" y2="1134.6" stroke="#2020c4" stroke-width="1.3" stroke-linecap="butt"/>
<line x1="944" y1="1134.6" x2="923.22" y2="1122.6" stroke="#2020c4" stroke-width="1.3" stroke-linecap="butt"/>
<line x1="943.35" y1="1129.49" x2="927.97" y2="1120.61" stroke="#2020c4" stroke-width="1.3" stroke-linecap="butt"/>
<line x1="923.22" y1="1122.6" x2="923.22" y2="1098.6" stroke="#2020c4" stroke-width="1.3" stroke-linecap="butt"/>
<line x1="964.78" y1="1098.6" x2="978.97" y2="1090.41" stroke="#2020c4" stroke-width="1.3" stroke-linecap="butt"/>
<line x1="991.32" y1="1091.88" x2="998.9" y2="1096.26" stroke="#2020c4" stroke-width="1.3" stroke-linecap="butt"/>
<line x1="993.02" y1="1088.94" x2="1000.6" y2="1093.32" stroke="#2020c4" stroke-width="1.3" stroke-linecap="butt"/>
<text x="959.91" y="1127.43" font-size="13.5" fill="#2020c4" text-anchor="start">N</text>
<text x="980.69" y="1091.43" font-size="13.5" fill="#2020c4" text-anchor="start">N</text>
<text x="1001.48" y="1103.43" font-size="13.5" fill="#2020c4" text-anchor="start">N</text>
<line x1="1012.95" y1="1094.79" x2="1027.14" y2="1086.6" stroke="#000" stroke-width="1.3" stroke-linecap="butt"/>
<line x1="1028.74" y1="1086.6" x2="1028.74" y2="1070.2" stroke="#000" stroke-width="1.3" stroke-linecap="butt"/>
<line x1="1025.54" y1="1086.6" x2="1025.54" y2="1070.2" stroke="#000" stroke-width="1.3" stroke-linecap="butt"/>
<line x1="1027.14" y1="1086.6" x2="1047.92" y2="1098.6" stroke="#000" stroke-width="1.3" stroke-linecap="butt"/>
<line x1="1047.92" y1="1098.6" x2="1068.71" y2="1086.6" stroke="#000" stroke-width="1.3" stroke-linecap="butt"/>
<line x1="1089.49" y1="1050.6" x2="1110.28" y2="1062.6" stroke="#000" stroke-width="1.3" stroke-linecap="butt"/>
<line x1="1090.14" y1="1055.71" x2="1105.52" y2="1064.59" stroke="#000" stroke-width="1.3" stroke-linecap="butt"/>
<line x1="1110.28" y1="1062.6" x2="1110.28" y2="1086.6" stroke="#000" stroke-width="1.3" stroke-linecap="butt"/>
<line x1="1110.28" y1="1086.6" x2="1089.49" y2="1098.6" stroke="#000" stroke-width="1.3" stroke-linecap="butt"/>
<line x1="1105.52" y1="1084.61" x2="1090.14" y2="1093.49" stroke="#000" stroke-width="1.3" stroke-linecap="butt"/>
<line x1="1089.49" y1="1098.6" x2="1068.71" y2="1086.6" stroke="#000" stroke-width="1.3" stroke-linecap="butt"/>
<line x1="1068.71" y1="1086.6" x2="1068.71" y2="1062.6" stroke="#000" stroke-width="1.3" stroke-linecap="butt"/>
<line x1="1072.81" y1="1083.48" x2="1072.81" y2="1065.72" stroke="#000" stroke-width="1.3" stroke-linecap="butt"/>
<line x1="1068.71" y1="1062.6" x2="1089.49" y2="1050.6" stroke="#000" stroke-width="1.3" stroke-linecap="butt"/>
<line x1="1047.92" y1="1098.6" x2="1047.92" y2="1115" stroke="#000" stroke-width="1.3" stroke-linecap="butt"/>
<line x1="1054.52" y1="1127.4" x2="1067.34" y2="1136.71" stroke="#000" stroke-width="1.3" stroke-linecap="butt"/>
<line x1="1041.32" y1="1127.4" x2="1028.5" y2="1136.71" stroke="#000" stroke-width="1.3" stroke-linecap="butt"/>
<line x1="1067.34" y1="1136.71" x2="1059.92" y2="1159.54" stroke="#000" stroke-width="1.3" stroke-linecap="butt"/>
<line x1="1028.5" y1="1136.71" x2="1035.92" y2="1159.54" stroke="#000" stroke-width="1.3" stroke-linecap="butt"/>
<line x1="1067.84" y1="1138.23" x2="1084.06" y2="1132.96" stroke="#000" stroke-width="1.3" stroke-linecap="butt"/>
<line x1="1066.85" y1="1135.19" x2="1083.07" y2="1129.92" stroke="#000" stroke-width="1.3" stroke-linecap="butt"/>
<line x1="1029" y1="1135.19" x2="1012.77" y2="1129.92" stroke="#000" stroke-width="1.3" stroke-linecap="butt"/>
<line x1="1028.01" y1="1138.23" x2="1011.78" y2="1132.96" stroke="#000" stroke-width="1.3" stroke-linecap="butt"/>
<line x1="1023.92" y1="1180.32" x2="1035.92" y2="1159.54" stroke="#000" stroke-width="1.3" stroke-linecap="butt"/>
<line x1="1035.92" y1="1159.54" x2="1059.92" y2="1159.54" stroke="#000" stroke-width="1.3" stroke-linecap="butt"/>
<line x1="1039.04" y1="1163.64" x2="1056.8" y2="1163.64" stroke="#000" stroke-width="1.3" stroke-linecap="butt"/>
<line x1="1059.92" y1="1159.54" x2="1071.92" y2="1180.32" stroke="#000" stroke-width="1.3" stroke-linecap="butt"/>
<line x1="1071.92" y1="1180.32" x2="1059.92" y2="1201.1" stroke="#000" stroke-width="1.3" stroke-linecap="butt"/>
<line x1="1066.81" y1="1180.97" x2="1057.93" y2="1196.35" stroke="#000" stroke-width="1.3" stroke-linecap="butt"/>
<line x1="1059.92" y1="1201.1" x2="1035.92" y2="1201.1" stroke="#000" stroke-width="1.3" stroke-linecap="butt"/>
<line x1="1035.92" y1="1201.1" x2="1023.92" y2="1180.32" stroke="#000" stroke-width="1.3" stroke-linecap="butt"/>
<line x1="1037.91" y1="1196.35" x2="1029.03" y2="1180.97" stroke="#000" stroke-width="1.3" stroke-linecap="butt"/>
<text x="1021.89" y="1067.43" font-size="13.5" fill="#000" text-anchor="start">O</text>
<text x="1043.05" y="1127.43" font-size="13.5" fill="#000" text-anchor="start">N</text>
<text x="1084.92" y="1134.13" font-size="13.5" fill="#000" text-anchor="start">O</text>
<text x="1000.43" y="1134.13" font-size="13.5" fill="#000" text-anchor="start">O</text>
<text x="969.71" y="1220.8" font-size="16.4" fill="#000" text-anchor="start"><tspan font-weight="bold">83</tspan>, 27%</text>
<text x="11.57" y="1261.9" font-size="20.5" font-weight="bold" textLength="465.49" lengthAdjust="spacingAndGlyphs">Fig. 4 Control experiments and mechanistic probes.</text>
<text x="480.8" y="1261.9" font-size="20.5" font-weight="bold">a</text>
<text x="497.11" y="1261.9" font-size="20.5" textLength="209.86" lengthAdjust="spacingAndGlyphs">Crossover experiments.</text>
<text x="709.04" y="1261.9" font-size="20.5" font-weight="bold">b</text>
<text x="725.9" y="1261.9" font-size="20.5" textLength="172.31" lengthAdjust="spacingAndGlyphs">Impact of additives.</text>
<text x="903.16" y="1261.9" font-size="20.5" font-weight="bold">c</text>
<text x="917.44" y="1261.9" font-size="20.5" textLength="233.6" lengthAdjust="spacingAndGlyphs">Radical-clock experiments.</text>
<text x="1156.5" y="1261.9" font-size="20.5" font-weight="bold">d</text>
<text x="1172.28" y="1261.9" font-size="20.5" textLength="194.23" lengthAdjust="spacingAndGlyphs">Control experiment to</text>
<text x="11.99" y="1288.7" font-size="20.5" textLength="503.81" lengthAdjust="spacingAndGlyphs">demonstrate no electrogenerated carbocation formation.</text>
<text x="521.86" y="1288.7" font-size="20.5" font-weight="bold">e</text>
<text x="538.16" y="1288.7" font-size="20.5" textLength="240.26" lengthAdjust="spacingAndGlyphs">Key intermediate isolation.</text>
</svg>
</body></html>
